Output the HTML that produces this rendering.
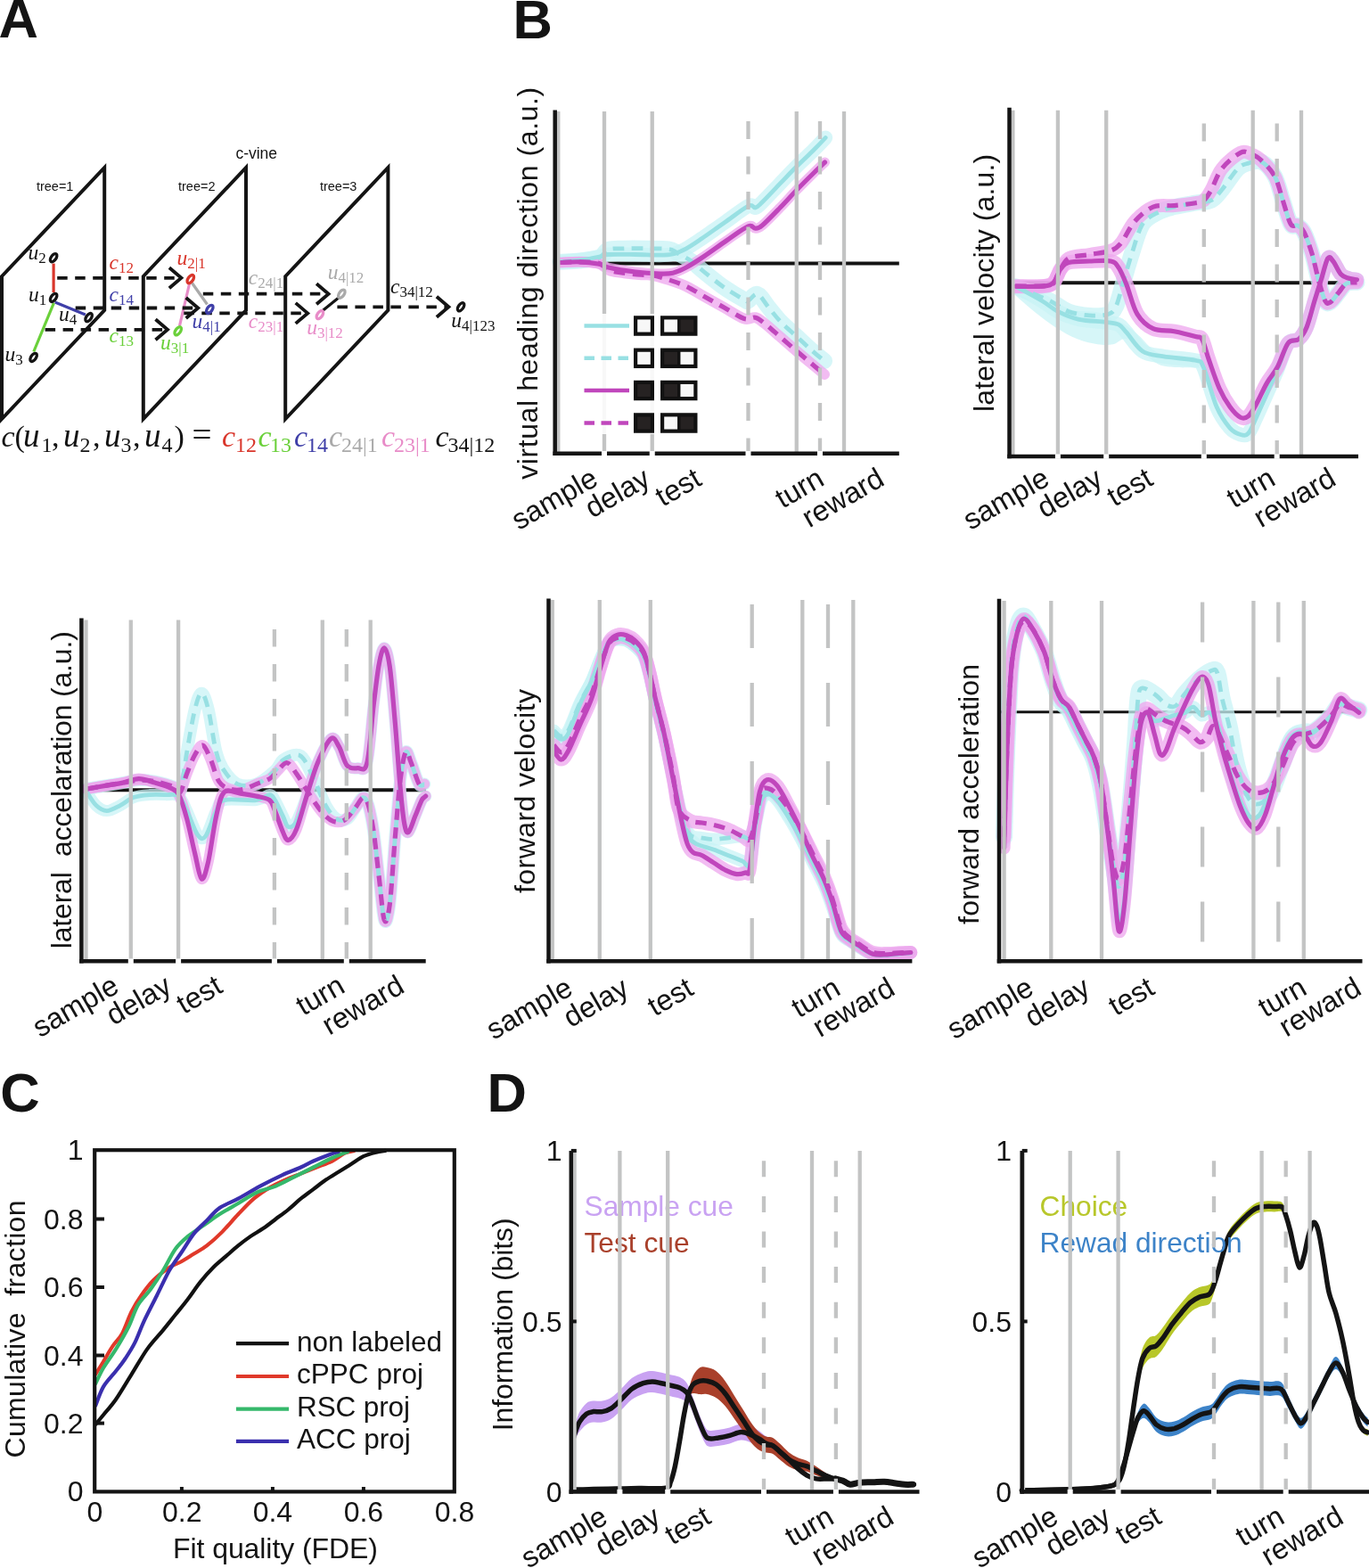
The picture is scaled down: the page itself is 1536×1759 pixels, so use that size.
<!DOCTYPE html><html><head><meta charset="utf-8"><title>Figure</title><style>html,body{margin:0;padding:0;background:#fff;}svg{display:block;}</style></head><body>
<svg width="1536" height="1759" viewBox="0 0 1536 1759">
<rect width="1536" height="1759" fill="#fff"/>
<text x="-1.5" y="42.3" font-size="61.5" text-anchor="start" fill="#141414" font-weight="bold" font-style="normal" font-family="'Liberation Sans', Arial, Helvetica, sans-serif">A</text>
<text x="575.5" y="42.5" font-size="61.5" text-anchor="start" fill="#141414" font-weight="bold" font-style="normal" font-family="'Liberation Sans', Arial, Helvetica, sans-serif">B</text>
<text x="0.2" y="1247.2" font-size="61.5" text-anchor="start" fill="#141414" font-weight="bold" font-style="normal" font-family="'Liberation Sans', Arial, Helvetica, sans-serif">C</text>
<text x="546.5" y="1247" font-size="61.5" text-anchor="start" fill="#141414" font-weight="bold" font-style="normal" font-family="'Liberation Sans', Arial, Helvetica, sans-serif">D</text>
<path d="M2,310 L117.2,188 L117.2,348 L2,470 Z" fill="none" stroke="#141414" stroke-width="4" stroke-linejoin="miter"/>
<path d="M160.8,310 L276,188 L276,348 L160.8,470 Z" fill="none" stroke="#141414" stroke-width="4" stroke-linejoin="miter"/>
<path d="M320.2,310 L435.4,188 L435.4,348 L320.2,470 Z" fill="none" stroke="#141414" stroke-width="4" stroke-linejoin="miter"/>
<line x1="60.1" y1="295.6" x2="60.1" y2="328" stroke="#d9362b" stroke-width="3.2" stroke-linecap="butt"/>
<line x1="61.7" y1="339" x2="95.8" y2="353.1" stroke="#3f3fa8" stroke-width="3.2" stroke-linecap="butt"/>
<line x1="60.4" y1="339.9" x2="37.8" y2="394.5" stroke="#6ad03a" stroke-width="3.2" stroke-linecap="butt"/>
<line x1="215.5" y1="317.5" x2="232.5" y2="341.5" stroke="#aaaaaa" stroke-width="3.2" stroke-linecap="butt"/>
<line x1="212.5" y1="318.5" x2="201.5" y2="365.5" stroke="#e88cc8" stroke-width="3.2" stroke-linecap="butt"/>
<line x1="362" y1="348.5" x2="380.5" y2="333.5" stroke="#141414" stroke-width="3.2" stroke-linecap="butt"/>
<line x1="64.2" y1="311.8" x2="201.4" y2="311.8" stroke="#141414" stroke-width="3.8" stroke-linecap="butt" stroke-dasharray="11.5 8.5"/>
<path d="M189.9,300.3 L203.4,311.8 L189.9,323.3" fill="none" stroke="#141414" stroke-width="3.8" stroke-linejoin="miter" stroke-linecap="butt"/>
<line x1="84.7" y1="345.5" x2="220.2" y2="345.5" stroke="#141414" stroke-width="3.8" stroke-linecap="butt" stroke-dasharray="11.5 8.5"/>
<path d="M208.7,334 L222.2,345.5 L208.7,357" fill="none" stroke="#141414" stroke-width="3.8" stroke-linejoin="miter" stroke-linecap="butt"/>
<line x1="50.6" y1="369.8" x2="186" y2="369.8" stroke="#141414" stroke-width="3.8" stroke-linecap="butt" stroke-dasharray="11.5 8.5"/>
<path d="M174.5,358.3 L188,369.8 L174.5,381.3" fill="none" stroke="#141414" stroke-width="3.8" stroke-linejoin="miter" stroke-linecap="butt"/>
<line x1="227.8" y1="329.7" x2="366.6" y2="329.7" stroke="#141414" stroke-width="3.8" stroke-linecap="butt" stroke-dasharray="11.5 8.5"/>
<path d="M355.1,318.2 L368.6,329.7 L355.1,341.2" fill="none" stroke="#141414" stroke-width="3.8" stroke-linejoin="miter" stroke-linecap="butt"/>
<line x1="206.3" y1="351.4" x2="343.2" y2="351.4" stroke="#141414" stroke-width="3.8" stroke-linecap="butt" stroke-dasharray="11.5 8.5"/>
<path d="M331.7,339.9 L345.2,351.4 L331.7,362.9" fill="none" stroke="#141414" stroke-width="3.8" stroke-linejoin="miter" stroke-linecap="butt"/>
<line x1="378.4" y1="344.3" x2="501.4" y2="344.3" stroke="#141414" stroke-width="3.8" stroke-linecap="butt" stroke-dasharray="11.5 8.5"/>
<path d="M489.9,332.8 L503.4,344.3 L489.9,355.8" fill="none" stroke="#141414" stroke-width="3.8" stroke-linejoin="miter" stroke-linecap="butt"/>
<ellipse cx="60.1" cy="289.2" rx="2.8" ry="5.2" transform="rotate(35 60.1 289.2)" fill="none" stroke="#141414" stroke-width="3.3"/>
<ellipse cx="60.1" cy="333.9" rx="2.8" ry="5.2" transform="rotate(35 60.1 333.9)" fill="none" stroke="#141414" stroke-width="3.3"/>
<ellipse cx="99.6" cy="356.1" rx="2.8" ry="5.2" transform="rotate(35 99.6 356.1)" fill="none" stroke="#141414" stroke-width="3.3"/>
<ellipse cx="37.6" cy="400.9" rx="2.8" ry="5.2" transform="rotate(35 37.6 400.9)" fill="none" stroke="#141414" stroke-width="3.3"/>
<ellipse cx="213.8" cy="313.1" rx="2.8" ry="5.2" transform="rotate(35 213.8 313.1)" fill="none" stroke="#d9362b" stroke-width="3.3"/>
<ellipse cx="235.3" cy="346.9" rx="2.8" ry="5.2" transform="rotate(35 235.3 346.9)" fill="none" stroke="#3f3fa8" stroke-width="3.3"/>
<ellipse cx="199.7" cy="371.3" rx="2.8" ry="5.2" transform="rotate(35 199.7 371.3)" fill="none" stroke="#6ad03a" stroke-width="3.3"/>
<ellipse cx="383.3" cy="329.7" rx="2.8" ry="5.2" transform="rotate(35 383.3 329.7)" fill="none" stroke="#aaaaaa" stroke-width="3.3"/>
<ellipse cx="358.9" cy="353.1" rx="2.8" ry="5.2" transform="rotate(35 358.9 353.1)" fill="none" stroke="#e88cc8" stroke-width="3.3"/>
<ellipse cx="517.1" cy="344.3" rx="2.8" ry="5.2" transform="rotate(35 517.1 344.3)" fill="none" stroke="#141414" stroke-width="3.3"/>
<text x="31.5" y="291" font-family="'Liberation Serif', 'Times New Roman', serif" font-size="23.5" fill="#141414"><tspan font-style="italic">u</tspan><tspan font-size="17" dy="4">2</tspan></text>
<text x="32" y="338.2" font-family="'Liberation Serif', 'Times New Roman', serif" font-size="23.5" fill="#141414"><tspan font-style="italic">u</tspan><tspan font-size="17" dy="4">1</tspan></text>
<text x="66" y="360.4" font-family="'Liberation Serif', 'Times New Roman', serif" font-size="23.5" fill="#141414"><tspan font-style="italic">u</tspan><tspan font-size="17" dy="4">4</tspan></text>
<text x="5.5" y="405" font-family="'Liberation Serif', 'Times New Roman', serif" font-size="23.5" fill="#141414"><tspan font-style="italic">u</tspan><tspan font-size="17" dy="4">3</tspan></text>
<text x="122.5" y="302" font-family="'Liberation Serif', 'Times New Roman', serif" font-size="23.5" fill="#d9362b"><tspan font-style="italic">c</tspan><tspan font-size="17" dy="4">12</tspan></text>
<text x="122.5" y="338" font-family="'Liberation Serif', 'Times New Roman', serif" font-size="23.5" fill="#3f3fa8"><tspan font-style="italic">c</tspan><tspan font-size="17" dy="4">14</tspan></text>
<text x="122.5" y="384" font-family="'Liberation Serif', 'Times New Roman', serif" font-size="23.5" fill="#6ad03a"><tspan font-style="italic">c</tspan><tspan font-size="17" dy="4">13</tspan></text>
<text x="198.5" y="297" font-family="'Liberation Serif', 'Times New Roman', serif" font-size="23.5" fill="#d9362b"><tspan font-style="italic">u</tspan><tspan font-size="17" dy="4">2|1</tspan></text>
<text x="215.5" y="367.5" font-family="'Liberation Serif', 'Times New Roman', serif" font-size="23.5" fill="#3f3fa8"><tspan font-style="italic">u</tspan><tspan font-size="17" dy="4">4|1</tspan></text>
<text x="180" y="392" font-family="'Liberation Serif', 'Times New Roman', serif" font-size="23.5" fill="#6ad03a"><tspan font-style="italic">u</tspan><tspan font-size="17" dy="4">3|1</tspan></text>
<text x="278.8" y="318.5" font-family="'Liberation Serif', 'Times New Roman', serif" font-size="23.5" fill="#aaaaaa"><tspan font-style="italic">c</tspan><tspan font-size="17" dy="4">24|1</tspan></text>
<text x="278.8" y="367.5" font-family="'Liberation Serif', 'Times New Roman', serif" font-size="23.5" fill="#e88cc8"><tspan font-style="italic">c</tspan><tspan font-size="17" dy="4">23|1</tspan></text>
<text x="367.7" y="312.5" font-family="'Liberation Serif', 'Times New Roman', serif" font-size="23.5" fill="#aaaaaa"><tspan font-style="italic">u</tspan><tspan font-size="17" dy="4">4|12</tspan></text>
<text x="344.2" y="375" font-family="'Liberation Serif', 'Times New Roman', serif" font-size="23.5" fill="#e88cc8"><tspan font-style="italic">u</tspan><tspan font-size="17" dy="4">3|12</tspan></text>
<text x="438" y="329" font-family="'Liberation Serif', 'Times New Roman', serif" font-size="23.5" fill="#141414"><tspan font-style="italic">c</tspan><tspan font-size="17" dy="4">34|12</tspan></text>
<text x="506.3" y="367" font-family="'Liberation Serif', 'Times New Roman', serif" font-size="23.5" fill="#141414"><tspan font-style="italic">u</tspan><tspan font-size="17" dy="4">4|123</tspan></text>
<text x="40.9" y="213.8" font-size="14.5" text-anchor="start" fill="#141414" font-weight="normal" font-style="normal" font-family="'Liberation Sans', Arial, Helvetica, sans-serif">tree=1</text>
<text x="200" y="213.8" font-size="14.5" text-anchor="start" fill="#141414" font-weight="normal" font-style="normal" font-family="'Liberation Sans', Arial, Helvetica, sans-serif">tree=2</text>
<text x="358.9" y="213.5" font-size="14.5" text-anchor="start" fill="#141414" font-weight="normal" font-style="normal" font-family="'Liberation Sans', Arial, Helvetica, sans-serif">tree=3</text>
<text x="264.4" y="177.5" font-size="17.5" text-anchor="start" fill="#141414" font-weight="normal" font-style="normal" font-family="'Liberation Sans', Arial, Helvetica, sans-serif">c-vine</text>
<text x="1.5" y="500.6" font-family="'Liberation Serif', 'Times New Roman', serif" font-size="34" fill="#141414" font-style="italic">c</text>
<text x="16.5" y="500.6" font-family="'Liberation Serif', 'Times New Roman', serif" font-size="34" fill="#141414" font-style="normal">(</text>
<text x="26" y="500.6" font-family="'Liberation Serif', 'Times New Roman', serif" font-size="37" fill="#141414" font-style="italic">u</text>
<text x="46.5" y="506.5" font-family="'Liberation Serif', 'Times New Roman', serif" font-size="24" fill="#141414" font-style="normal">1</text>
<text x="58" y="500.6" font-family="'Liberation Serif', 'Times New Roman', serif" font-size="34" fill="#141414" font-style="normal">,</text>
<text x="71" y="500.6" font-family="'Liberation Serif', 'Times New Roman', serif" font-size="37" fill="#141414" font-style="italic">u</text>
<text x="89.5" y="506.5" font-family="'Liberation Serif', 'Times New Roman', serif" font-size="24" fill="#141414" font-style="normal">2</text>
<text x="104" y="500.6" font-family="'Liberation Serif', 'Times New Roman', serif" font-size="34" fill="#141414" font-style="normal">,</text>
<text x="117" y="500.6" font-family="'Liberation Serif', 'Times New Roman', serif" font-size="37" fill="#141414" font-style="italic">u</text>
<text x="135.5" y="506.5" font-family="'Liberation Serif', 'Times New Roman', serif" font-size="24" fill="#141414" font-style="normal">3</text>
<text x="149" y="500.6" font-family="'Liberation Serif', 'Times New Roman', serif" font-size="34" fill="#141414" font-style="normal">,</text>
<text x="162" y="500.6" font-family="'Liberation Serif', 'Times New Roman', serif" font-size="37" fill="#141414" font-style="italic">u</text>
<text x="181.5" y="506.5" font-family="'Liberation Serif', 'Times New Roman', serif" font-size="24" fill="#141414" font-style="normal">4</text>
<text x="195.5" y="500.6" font-family="'Liberation Serif', 'Times New Roman', serif" font-size="34" fill="#141414" font-style="normal">)</text>
<text x="215.5" y="500.6" font-family="'Liberation Serif', 'Times New Roman', serif" font-size="39" fill="#141414" font-style="normal">=</text>
<text x="249" y="500.6" font-family="'Liberation Serif', 'Times New Roman', serif" font-size="34" fill="#d9362b" font-style="italic">c</text>
<text x="264" y="506.5" font-family="'Liberation Serif', 'Times New Roman', serif" font-size="24" fill="#d9362b" font-style="normal">12</text>
<text x="289.5" y="500.6" font-family="'Liberation Serif', 'Times New Roman', serif" font-size="34" fill="#6ad03a" font-style="italic">c</text>
<text x="303" y="506.5" font-family="'Liberation Serif', 'Times New Roman', serif" font-size="24" fill="#6ad03a" font-style="normal">13</text>
<text x="330" y="500.6" font-family="'Liberation Serif', 'Times New Roman', serif" font-size="34" fill="#3f3fa8" font-style="italic">c</text>
<text x="344" y="506.5" font-family="'Liberation Serif', 'Times New Roman', serif" font-size="24" fill="#3f3fa8" font-style="normal">14</text>
<text x="369" y="500.6" font-family="'Liberation Serif', 'Times New Roman', serif" font-size="34" fill="#aaaaaa" font-style="italic">c</text>
<text x="383" y="506.5" font-family="'Liberation Serif', 'Times New Roman', serif" font-size="24" fill="#aaaaaa" font-style="normal">24|1</text>
<text x="428" y="500.6" font-family="'Liberation Serif', 'Times New Roman', serif" font-size="34" fill="#e88cc8" font-style="italic">c</text>
<text x="442" y="506.5" font-family="'Liberation Serif', 'Times New Roman', serif" font-size="24" fill="#e88cc8" font-style="normal">23|1</text>
<text x="488.5" y="500.6" font-family="'Liberation Serif', 'Times New Roman', serif" font-size="34" fill="#141414" font-style="italic">c</text>
<text x="502.5" y="506.5" font-family="'Liberation Serif', 'Times New Roman', serif" font-size="24" fill="#141414" font-style="normal">34|12</text>
<line x1="622.7" y1="295.5" x2="1008.8" y2="295.5" stroke="#141414" stroke-width="4" stroke-linecap="butt"/>
<path d="M628.8,293.8 C632.3,293.5 642.7,293.0 650.0,292.0 C657.3,291.0 667.1,289.1 672.5,288.0 C677.9,286.9 675.8,285.9 682.5,285.5 C689.2,285.1 702.9,285.4 712.5,285.5 C722.1,285.6 732.9,286.3 740.0,286.2 C747.1,286.2 750.0,286.2 755.0,285.0 C760.0,283.8 764.6,281.7 770.0,278.8 C775.4,275.8 780.4,272.3 787.5,267.5 C794.6,262.7 803.8,256.0 812.5,250.0 C821.2,244.0 833.7,234.1 839.5,231.2 C845.3,228.4 844.9,233.7 847.5,233.0 C850.1,232.3 850.4,231.5 855.0,227.0 C859.6,222.5 868.5,213.0 875.0,206.2 C881.5,199.5 887.5,193.0 893.8,186.8 C900.0,180.5 907.1,174.1 912.5,168.8 C917.9,163.4 924.0,156.9 926.2,154.5" stroke="#c8f3f5" stroke-width="16" fill="none" stroke-linecap="round" stroke-linejoin="round" opacity="0.75"/>
<path d="M628.8,293.8 C632.3,293.5 642.7,293.3 650.0,292.5 C657.3,291.7 667.1,290.8 672.5,288.8 C677.9,286.7 677.9,281.7 682.5,280.0 C687.1,278.3 692.9,279.0 700.0,278.8 C707.1,278.5 716.7,278.6 725.0,278.8 C733.3,278.9 744.2,278.7 750.0,279.5 C755.8,280.3 755.8,281.6 760.0,283.8 C764.2,285.9 770.0,289.0 775.0,292.5 C780.0,296.0 783.8,300.0 790.0,305.0 C796.2,310.0 805.0,317.3 812.5,322.5 C820.0,327.7 830.5,333.8 835.0,336.2 C839.5,338.8 837.0,338.5 839.5,337.5 C842.0,336.5 846.2,328.8 850.0,330.0 C853.8,331.2 858.3,340.0 862.5,345.0 C866.7,350.0 869.8,354.6 875.0,360.0 C880.2,365.4 887.9,372.1 893.8,377.5 C899.6,382.9 904.8,387.9 910.0,392.5 C915.2,397.1 922.5,402.9 925.0,405.0" stroke="#c8f3f5" stroke-width="18" fill="none" stroke-linecap="round" stroke-linejoin="round" opacity="0.75"/>
<path d="M628.8,294.5 C632.3,294.4 642.7,293.5 650.0,293.8 C657.3,294.0 667.1,295.2 672.5,296.2 C677.9,297.3 675.8,298.5 682.5,300.0 C689.2,301.5 702.9,303.8 712.5,305.0 C722.1,306.2 732.9,306.8 740.0,307.0 C747.1,307.2 750.0,307.4 755.0,306.2 C760.0,305.1 764.2,303.1 770.0,300.0 C775.8,296.9 782.5,292.5 790.0,287.5 C797.5,282.5 806.8,275.6 815.0,270.0 C823.2,264.4 834.1,256.0 839.5,253.8 C844.9,251.5 844.9,256.4 847.5,256.2 C850.1,256.1 850.4,256.8 855.0,253.0 C859.6,249.2 868.5,239.9 875.0,233.2 C881.5,226.6 887.5,219.7 893.8,213.2 C900.0,206.8 907.2,199.7 912.5,194.5 C917.8,189.3 923.3,184.1 925.5,182.0" stroke="#eea6ee" stroke-width="11" fill="none" stroke-linecap="round" stroke-linejoin="round" opacity="0.75"/>
<path d="M628.8,294.5 C632.3,294.4 643.1,293.7 650.0,293.8 C656.9,293.8 665.4,294.2 670.0,295.0 C674.6,295.8 675.0,297.3 677.5,298.8 C680.0,300.2 681.2,302.5 685.0,303.8 C688.8,305.0 694.2,305.5 700.0,306.2 C705.8,307.0 714.7,307.8 720.0,308.2 C725.3,308.7 726.8,307.8 731.8,308.8 C736.8,309.7 743.6,311.7 750.0,313.8 C756.4,315.8 763.3,318.1 770.0,321.2 C776.7,324.4 782.9,328.5 790.0,332.5 C797.1,336.5 805.0,340.8 812.5,345.0 C820.0,349.2 829.2,355.6 835.0,357.5 C840.8,359.4 843.8,355.4 847.5,356.2 C851.2,357.1 852.9,359.0 857.5,362.5 C862.1,366.0 869.0,372.3 875.0,377.5 C881.0,382.7 887.9,388.8 893.8,393.8 C899.6,398.8 904.8,403.1 910.0,407.5 C915.2,411.9 922.5,417.9 925.0,420.0" stroke="#eea6ee" stroke-width="12" fill="none" stroke-linecap="round" stroke-linejoin="round" opacity="0.75"/>
<path d="M628.8,293.8 C632.3,293.5 642.7,293.0 650.0,292.0 C657.3,291.0 667.1,289.1 672.5,288.0 C677.9,286.9 675.8,285.9 682.5,285.5 C689.2,285.1 702.9,285.4 712.5,285.5 C722.1,285.6 732.9,286.3 740.0,286.2 C747.1,286.2 750.0,286.2 755.0,285.0 C760.0,283.8 764.6,281.7 770.0,278.8 C775.4,275.8 780.4,272.3 787.5,267.5 C794.6,262.7 803.8,256.0 812.5,250.0 C821.2,244.0 833.7,234.1 839.5,231.2 C845.3,228.4 844.9,233.7 847.5,233.0 C850.1,232.3 850.4,231.5 855.0,227.0 C859.6,222.5 868.5,213.0 875.0,206.2 C881.5,199.5 887.5,193.0 893.8,186.8 C900.0,180.5 907.1,174.1 912.5,168.8 C917.9,163.4 924.0,156.9 926.2,154.5" stroke="#98e0e3" stroke-width="4.8" fill="none" stroke-linecap="round" stroke-linejoin="round"/>
<path d="M628.8,293.8 C632.3,293.5 642.7,293.3 650.0,292.5 C657.3,291.7 667.1,290.8 672.5,288.8 C677.9,286.7 677.9,281.7 682.5,280.0 C687.1,278.3 692.9,279.0 700.0,278.8 C707.1,278.5 716.7,278.6 725.0,278.8 C733.3,278.9 744.2,278.7 750.0,279.5 C755.8,280.3 755.8,281.6 760.0,283.8 C764.2,285.9 770.0,289.0 775.0,292.5 C780.0,296.0 783.8,300.0 790.0,305.0 C796.2,310.0 805.0,317.3 812.5,322.5 C820.0,327.7 830.5,333.8 835.0,336.2 C839.5,338.8 837.0,338.5 839.5,337.5 C842.0,336.5 846.2,328.8 850.0,330.0 C853.8,331.2 858.3,340.0 862.5,345.0 C866.7,350.0 869.8,354.6 875.0,360.0 C880.2,365.4 887.9,372.1 893.8,377.5 C899.6,382.9 904.8,387.9 910.0,392.5 C915.2,397.1 922.5,402.9 925.0,405.0" stroke="#98e0e3" stroke-width="4.8" fill="none" stroke-linecap="butt" stroke-linejoin="round" stroke-dasharray="12.5 8.5"/>
<path d="M628.8,294.5 C632.3,294.4 642.7,293.5 650.0,293.8 C657.3,294.0 667.1,295.2 672.5,296.2 C677.9,297.3 675.8,298.5 682.5,300.0 C689.2,301.5 702.9,303.8 712.5,305.0 C722.1,306.2 732.9,306.8 740.0,307.0 C747.1,307.2 750.0,307.4 755.0,306.2 C760.0,305.1 764.2,303.1 770.0,300.0 C775.8,296.9 782.5,292.5 790.0,287.5 C797.5,282.5 806.8,275.6 815.0,270.0 C823.2,264.4 834.1,256.0 839.5,253.8 C844.9,251.5 844.9,256.4 847.5,256.2 C850.1,256.1 850.4,256.8 855.0,253.0 C859.6,249.2 868.5,239.9 875.0,233.2 C881.5,226.6 887.5,219.7 893.8,213.2 C900.0,206.8 907.2,199.7 912.5,194.5 C917.8,189.3 923.3,184.1 925.5,182.0" stroke="#c046bc" stroke-width="5.2" fill="none" stroke-linecap="round" stroke-linejoin="round"/>
<path d="M628.8,294.5 C632.3,294.4 643.1,293.7 650.0,293.8 C656.9,293.8 665.4,294.2 670.0,295.0 C674.6,295.8 675.0,297.3 677.5,298.8 C680.0,300.2 681.2,302.5 685.0,303.8 C688.8,305.0 694.2,305.5 700.0,306.2 C705.8,307.0 714.7,307.8 720.0,308.2 C725.3,308.7 726.8,307.8 731.8,308.8 C736.8,309.7 743.6,311.7 750.0,313.8 C756.4,315.8 763.3,318.1 770.0,321.2 C776.7,324.4 782.9,328.5 790.0,332.5 C797.1,336.5 805.0,340.8 812.5,345.0 C820.0,349.2 829.2,355.6 835.0,357.5 C840.8,359.4 843.8,355.4 847.5,356.2 C851.2,357.1 852.9,359.0 857.5,362.5 C862.1,366.0 869.0,372.3 875.0,377.5 C881.0,382.7 887.9,388.8 893.8,393.8 C899.6,398.8 904.8,403.1 910.0,407.5 C915.2,411.9 922.5,417.9 925.0,420.0" stroke="#c046bc" stroke-width="5.2" fill="none" stroke-linecap="butt" stroke-linejoin="round" stroke-dasharray="12.5 8.5"/>
<line x1="626.3" y1="125" x2="626.3" y2="508.75" stroke="#c3c4c4" stroke-width="4.3" stroke-linecap="butt"/>
<line x1="678" y1="125" x2="678" y2="508.75" stroke="#c3c4c4" stroke-width="4.3" stroke-linecap="butt"/>
<line x1="731.75" y1="125" x2="731.75" y2="508.75" stroke="#c3c4c4" stroke-width="4.3" stroke-linecap="butt"/>
<line x1="839.5" y1="136" x2="839.5" y2="508.75" stroke="#c3c4c4" stroke-width="4.3" stroke-linecap="butt" stroke-dasharray="20 19.5"/>
<line x1="893.75" y1="125" x2="893.75" y2="508.75" stroke="#c3c4c4" stroke-width="4.3" stroke-linecap="butt"/>
<line x1="920" y1="136" x2="920" y2="508.75" stroke="#c3c4c4" stroke-width="4.3" stroke-linecap="butt" stroke-dasharray="20 19.5"/>
<line x1="947" y1="125" x2="947" y2="508.75" stroke="#c3c4c4" stroke-width="4.3" stroke-linecap="butt"/>
<rect x="650" y="352" width="136" height="135" fill="#fff" opacity="0.88"/>
<line x1="655.5" y1="365.5" x2="706" y2="365.5" stroke="#98e0e3" stroke-width="4.5" stroke-linecap="butt"/>
<rect x="711" y="354.25" width="23" height="22.5" fill="#111"/>
<rect x="715.2" y="358.45" width="14.6" height="14.1" fill="#f7f7f7"/>
<rect x="741" y="354.25" width="41.5" height="22.5" fill="#111"/>
<rect x="745.2" y="358.45" width="14.85" height="14.1" fill="#f7f7f7"/>
<rect x="763.45" y="358.45" width="14.85" height="14.1" fill="#262222"/>
<line x1="655.5" y1="401.8" x2="706" y2="401.8" stroke="#98e0e3" stroke-width="4.5" stroke-linecap="butt" stroke-dasharray="11.5 7.5"/>
<rect x="711" y="390.55" width="23" height="22.5" fill="#111"/>
<rect x="715.2" y="394.75" width="14.6" height="14.1" fill="#f7f7f7"/>
<rect x="741" y="390.55" width="41.5" height="22.5" fill="#111"/>
<rect x="745.2" y="394.75" width="14.85" height="14.1" fill="#262222"/>
<rect x="763.45" y="394.75" width="14.85" height="14.1" fill="#f7f7f7"/>
<line x1="655.5" y1="438" x2="706" y2="438" stroke="#c046bc" stroke-width="4.5" stroke-linecap="butt"/>
<rect x="711" y="426.75" width="23" height="22.5" fill="#111"/>
<rect x="715.2" y="430.95" width="14.6" height="14.1" fill="#262222"/>
<rect x="741" y="426.75" width="41.5" height="22.5" fill="#111"/>
<rect x="745.2" y="430.95" width="14.85" height="14.1" fill="#262222"/>
<rect x="763.45" y="430.95" width="14.85" height="14.1" fill="#f7f7f7"/>
<line x1="655.5" y1="474.5" x2="706" y2="474.5" stroke="#c046bc" stroke-width="4.5" stroke-linecap="butt" stroke-dasharray="11.5 7.5"/>
<rect x="711" y="463.25" width="23" height="22.5" fill="#111"/>
<rect x="715.2" y="467.45" width="14.6" height="14.1" fill="#262222"/>
<rect x="741" y="463.25" width="41.5" height="22.5" fill="#111"/>
<rect x="745.2" y="467.45" width="14.85" height="14.1" fill="#f7f7f7"/>
<rect x="763.45" y="467.45" width="14.85" height="14.1" fill="#262222"/>
<line x1="622.7" y1="123.5" x2="622.7" y2="511" stroke="#141414" stroke-width="4.5" stroke-linecap="butt"/>
<line x1="620.45" y1="508.75" x2="1008.8" y2="508.75" stroke="#141414" stroke-width="4.5" stroke-linecap="butt"/>
<rect x="675" y="506" width="6" height="5.5" fill="#fff"/>
<rect x="728.75" y="506" width="6" height="5.5" fill="#fff"/>
<rect x="836.5" y="506" width="6" height="5.5" fill="#fff"/>
<rect x="917" y="506" width="6" height="5.5" fill="#fff"/>
<text x="672.8" y="542.9" font-size="32.5" text-anchor="end" fill="#141414" font-weight="normal" font-style="normal" font-family="'Liberation Sans', Arial, Helvetica, sans-serif" transform="rotate(-30 672.8 542.9)">sample</text>
<text x="731.7" y="542.9" font-size="32.5" text-anchor="end" fill="#141414" font-weight="normal" font-style="normal" font-family="'Liberation Sans', Arial, Helvetica, sans-serif" transform="rotate(-30 731.7 542.9)">delay</text>
<text x="789" y="542.9" font-size="32.5" text-anchor="end" fill="#141414" font-weight="normal" font-style="normal" font-family="'Liberation Sans', Arial, Helvetica, sans-serif" transform="rotate(-30 789 542.9)">test</text>
<text x="926.6" y="542.9" font-size="32.5" text-anchor="end" fill="#141414" font-weight="normal" font-style="normal" font-family="'Liberation Sans', Arial, Helvetica, sans-serif" transform="rotate(-30 926.6 542.9)">turn</text>
<text x="994.1" y="542.9" font-size="32.5" text-anchor="end" fill="#141414" font-weight="normal" font-style="normal" font-family="'Liberation Sans', Arial, Helvetica, sans-serif" transform="rotate(-30 994.1 542.9)">reward</text>
<text x="603.2" y="317.8" font-size="32" text-anchor="middle" fill="#141414" font-weight="normal" font-style="normal" font-family="'Liberation Sans', Arial, Helvetica, sans-serif" transform="rotate(-90 603.2 317.8)" textLength="440" lengthAdjust="spacing">virtual heading direction (a.u.)</text>
<line x1="1132.5" y1="317.3" x2="1524" y2="317.3" stroke="#141414" stroke-width="4" stroke-linecap="butt"/>
<path d="M1139.4,326.9 C1143.1,329.0 1153.8,336.3 1161.3,339.4 C1168.8,342.5 1176.9,344.0 1184.7,345.6 C1192.5,347.2 1200.3,348.0 1208.1,348.8 C1215.9,349.6 1224.8,348.8 1231.6,350.3 C1238.4,351.9 1243.6,355.8 1248.8,358.1 C1254.0,360.5 1257.9,361.3 1262.8,364.4 C1267.7,367.5 1273.2,372.2 1278.4,376.9 C1283.6,381.6 1288.8,388.9 1294.0,392.5 C1299.2,396.1 1301.1,397.5 1309.7,398.8 C1318.3,400.1 1339.6,400.1 1345.6,400.3 L1345.6,412.8 C1339.6,412.6 1318.3,412.6 1309.7,411.3 C1301.1,410.0 1299.2,408.6 1294.0,405.0 C1288.8,401.4 1283.6,393.6 1278.4,389.4 C1273.2,385.2 1267.7,380.5 1262.8,380.0 C1257.9,379.5 1254.0,385.2 1248.8,386.3 C1243.6,387.4 1238.4,387.4 1231.6,386.3 C1224.8,385.2 1215.9,383.1 1208.1,380.0 C1200.3,376.9 1192.5,372.4 1184.7,367.5 C1176.9,362.6 1168.8,356.3 1161.3,350.3 C1153.8,344.3 1143.1,334.7 1139.4,331.6 Z" stroke="none" stroke-width="1" fill="#c8f3f5" stroke-linecap="round" stroke-linejoin="round" opacity="0.75"/>
<path d="M1139.4,321.2 C1144.3,323.9 1161.2,332.8 1169.1,337.5 C1177.0,342.2 1180.0,345.9 1186.9,349.4 C1193.8,352.9 1201.7,356.3 1210.6,358.3 C1219.5,360.3 1232.9,360.3 1240.3,361.3 C1247.8,362.3 1251.2,362.3 1255.2,364.2 C1259.1,366.2 1259.6,368.2 1264.1,373.2 C1268.5,378.1 1275.0,389.5 1281.9,393.9 C1288.8,398.4 1295.8,398.1 1305.7,399.9 C1315.5,401.6 1333.9,402.3 1341.3,404.3 C1348.7,406.3 1346.2,403.1 1350.2,411.8 C1354.2,420.4 1360.1,444.9 1365.0,456.3 C1370.0,467.7 1375.4,474.9 1379.9,480.1 C1384.3,485.2 1388.3,486.5 1391.8,487.5 C1395.2,488.5 1397.7,489.2 1400.7,486.0 C1403.6,482.8 1406.1,475.6 1409.6,468.2 C1413.0,460.7 1417.5,450.4 1421.5,441.4 C1425.4,432.5 1429.4,424.1 1433.3,414.7 C1437.3,405.3 1441.2,390.7 1445.2,385.0 C1449.2,379.3 1453.6,383.5 1457.1,380.6 C1460.5,377.6 1463.0,374.4 1466.0,367.2 C1469.0,360.0 1472.2,346.4 1474.9,337.5 C1477.6,328.6 1479.8,321.7 1482.3,313.8 C1484.8,305.9 1487.5,293.5 1489.7,290.0 C1492.0,286.6 1493.2,290.0 1495.7,293.0 C1498.2,296.0 1501.6,304.6 1504.6,307.8 C1507.5,311.1 1510.5,311.3 1513.5,312.3 C1516.5,313.3 1520.9,313.5 1522.4,313.8" stroke="#c8f3f5" stroke-width="16" fill="none" stroke-linecap="round" stroke-linejoin="round" opacity="0.75"/>
<path d="M1139.4,321.2 C1145.8,323.9 1168.1,332.8 1178.0,337.5 C1187.9,342.2 1191.3,346.7 1198.8,349.4 C1206.2,352.1 1215.1,353.4 1222.5,353.9 C1229.9,354.4 1238.4,354.1 1243.3,352.4 C1248.2,350.6 1249.2,349.9 1252.2,343.5 C1255.2,337.0 1258.2,323.7 1261.1,313.8 C1264.1,303.9 1266.6,294.5 1270.0,284.1 C1273.5,273.7 1277.0,259.1 1281.9,251.4 C1286.8,243.8 1293.8,241.3 1299.7,238.1 C1305.6,234.8 1310.6,233.9 1317.5,232.1 C1324.5,230.4 1334.4,228.9 1341.3,227.7 C1348.2,226.4 1354.2,227.2 1359.1,224.7 C1364.0,222.2 1366.0,218.8 1371.0,212.8 C1375.9,206.9 1383.8,194.0 1388.8,189.1 C1393.7,184.1 1396.2,184.4 1400.7,183.1 C1405.1,181.9 1410.6,179.2 1415.5,181.7 C1420.5,184.1 1426.4,190.8 1430.4,198.0 C1434.3,205.2 1436.3,215.8 1439.3,224.7 C1442.2,233.6 1445.4,246.7 1448.2,251.4 C1450.9,256.1 1453.1,251.4 1455.6,252.9 C1458.1,254.4 1460.3,255.1 1463.0,260.3 C1465.7,265.5 1469.2,275.2 1471.9,284.1 C1474.6,293.0 1476.9,304.9 1479.3,313.8 C1481.8,322.7 1484.5,333.3 1486.8,337.5 C1489.0,341.7 1490.2,340.5 1492.7,339.0 C1495.2,337.5 1498.7,332.1 1501.6,328.6 C1504.6,325.2 1507.1,320.2 1510.5,318.2 C1514.0,316.3 1520.4,317.0 1522.4,316.8" stroke="#c8f3f5" stroke-width="18" fill="none" stroke-linecap="round" stroke-linejoin="round" opacity="0.75"/>
<path d="M1139.4,321.2 C1145.8,321.0 1169.6,322.9 1178.0,319.7 C1186.4,316.5 1186.4,306.1 1189.9,301.9 C1193.3,297.7 1193.3,296.0 1198.8,294.5 C1204.2,293.0 1214.6,293.2 1222.5,293.0 C1230.4,292.7 1240.8,291.8 1246.3,293.0 C1251.7,294.2 1252.2,296.0 1255.2,300.4 C1258.2,304.9 1260.6,311.0 1264.1,319.7 C1267.6,328.4 1271.0,344.2 1276.0,352.4 C1280.9,360.5 1286.9,365.5 1293.8,368.7 C1300.7,371.9 1309.6,370.2 1317.5,371.7 C1325.4,373.2 1336.1,376.1 1341.3,377.6 C1346.5,379.1 1346.2,376.4 1348.7,380.6 C1351.2,384.8 1352.9,393.7 1356.1,402.9 C1359.3,412.0 1364.0,426.6 1368.0,435.5 C1372.0,444.4 1375.9,450.8 1379.9,456.3 C1383.8,461.7 1388.3,466.4 1391.8,468.2 C1395.2,469.9 1397.7,469.2 1400.7,466.7 C1403.6,464.2 1406.1,459.5 1409.6,453.3 C1413.0,447.1 1417.5,436.5 1421.5,429.6 C1425.4,422.6 1429.4,419.2 1433.3,411.8 C1437.3,404.3 1441.2,390.2 1445.2,385.0 C1449.2,379.8 1453.6,383.5 1457.1,380.6 C1460.5,377.6 1463.0,374.4 1466.0,367.2 C1469.0,360.0 1472.2,346.4 1474.9,337.5 C1477.6,328.6 1479.8,321.7 1482.3,313.8 C1484.8,305.9 1487.5,293.5 1489.7,290.0 C1492.0,286.6 1493.2,290.0 1495.7,293.0 C1498.2,296.0 1501.6,304.6 1504.6,307.8 C1507.5,311.1 1510.5,311.3 1513.5,312.3 C1516.5,313.3 1520.9,313.5 1522.4,313.8" stroke="#eea6ee" stroke-width="16" fill="none" stroke-linecap="round" stroke-linejoin="round" opacity="0.75"/>
<path d="M1139.4,321.2 C1145.8,321.0 1170.1,321.9 1178.0,319.7 C1185.9,317.5 1183.4,312.8 1186.9,307.8 C1190.4,302.9 1192.8,293.7 1198.8,290.0 C1204.7,286.3 1214.6,287.1 1222.5,285.6 C1230.4,284.1 1240.3,283.3 1246.3,281.1 C1252.2,278.9 1253.7,277.7 1258.2,272.2 C1262.6,266.8 1267.1,255.1 1273.0,248.5 C1278.9,241.8 1286.4,235.1 1293.8,232.1 C1301.2,229.2 1309.6,231.4 1317.5,230.6 C1325.4,229.9 1335.7,228.7 1341.3,227.7 C1346.8,226.7 1347.8,227.2 1350.8,224.7 C1353.8,222.2 1355.7,218.8 1359.1,212.8 C1362.5,206.9 1365.5,196.0 1371.0,189.1 C1376.4,182.1 1386.3,174.0 1391.8,171.3 C1397.2,168.5 1399.7,171.3 1403.6,172.7 C1407.6,174.2 1411.1,176.0 1415.5,180.2 C1420.0,184.4 1426.4,190.6 1430.4,198.0 C1434.3,205.4 1436.3,215.8 1439.3,224.7 C1442.2,233.6 1445.4,246.7 1448.2,251.4 C1450.9,256.1 1453.1,251.4 1455.6,252.9 C1458.1,254.4 1460.3,255.1 1463.0,260.3 C1465.7,265.5 1469.2,275.2 1471.9,284.1 C1474.6,293.0 1476.9,304.9 1479.3,313.8 C1481.8,322.7 1484.5,333.3 1486.8,337.5 C1489.0,341.7 1490.2,340.5 1492.7,339.0 C1495.2,337.5 1498.7,332.1 1501.6,328.6 C1504.6,325.2 1507.1,320.2 1510.5,318.2 C1514.0,316.3 1520.4,317.0 1522.4,316.8" stroke="#eea6ee" stroke-width="15" fill="none" stroke-linecap="round" stroke-linejoin="round" opacity="0.75"/>
<path d="M1139.4,321.2 C1144.3,323.9 1161.2,332.8 1169.1,337.5 C1177.0,342.2 1180.0,345.9 1186.9,349.4 C1193.8,352.9 1201.7,356.3 1210.6,358.3 C1219.5,360.3 1232.9,360.3 1240.3,361.3 C1247.8,362.3 1251.2,362.3 1255.2,364.2 C1259.1,366.2 1259.6,368.2 1264.1,373.2 C1268.5,378.1 1275.0,389.5 1281.9,393.9 C1288.8,398.4 1295.8,398.1 1305.7,399.9 C1315.5,401.6 1333.9,402.3 1341.3,404.3 C1348.7,406.3 1346.2,403.1 1350.2,411.8 C1354.2,420.4 1360.1,444.9 1365.0,456.3 C1370.0,467.7 1375.4,474.9 1379.9,480.1 C1384.3,485.2 1388.3,486.5 1391.8,487.5 C1395.2,488.5 1397.7,489.2 1400.7,486.0 C1403.6,482.8 1406.1,475.6 1409.6,468.2 C1413.0,460.7 1417.5,450.4 1421.5,441.4 C1425.4,432.5 1429.4,424.1 1433.3,414.7 C1437.3,405.3 1441.2,390.7 1445.2,385.0 C1449.2,379.3 1453.6,383.5 1457.1,380.6 C1460.5,377.6 1463.0,374.4 1466.0,367.2 C1469.0,360.0 1472.2,346.4 1474.9,337.5 C1477.6,328.6 1479.8,321.7 1482.3,313.8 C1484.8,305.9 1487.5,293.5 1489.7,290.0 C1492.0,286.6 1493.2,290.0 1495.7,293.0 C1498.2,296.0 1501.6,304.6 1504.6,307.8 C1507.5,311.1 1510.5,311.3 1513.5,312.3 C1516.5,313.3 1520.9,313.5 1522.4,313.8" stroke="#98e0e3" stroke-width="4.8" fill="none" stroke-linecap="round" stroke-linejoin="round"/>
<path d="M1139.4,321.2 C1145.8,323.9 1168.1,332.8 1178.0,337.5 C1187.9,342.2 1191.3,346.7 1198.8,349.4 C1206.2,352.1 1215.1,353.4 1222.5,353.9 C1229.9,354.4 1238.4,354.1 1243.3,352.4 C1248.2,350.6 1249.2,349.9 1252.2,343.5 C1255.2,337.0 1258.2,323.7 1261.1,313.8 C1264.1,303.9 1266.6,294.5 1270.0,284.1 C1273.5,273.7 1277.0,259.1 1281.9,251.4 C1286.8,243.8 1293.8,241.3 1299.7,238.1 C1305.6,234.8 1310.6,233.9 1317.5,232.1 C1324.5,230.4 1334.4,228.9 1341.3,227.7 C1348.2,226.4 1354.2,227.2 1359.1,224.7 C1364.0,222.2 1366.0,218.8 1371.0,212.8 C1375.9,206.9 1383.8,194.0 1388.8,189.1 C1393.7,184.1 1396.2,184.4 1400.7,183.1 C1405.1,181.9 1410.6,179.2 1415.5,181.7 C1420.5,184.1 1426.4,190.8 1430.4,198.0 C1434.3,205.2 1436.3,215.8 1439.3,224.7 C1442.2,233.6 1445.4,246.7 1448.2,251.4 C1450.9,256.1 1453.1,251.4 1455.6,252.9 C1458.1,254.4 1460.3,255.1 1463.0,260.3 C1465.7,265.5 1469.2,275.2 1471.9,284.1 C1474.6,293.0 1476.9,304.9 1479.3,313.8 C1481.8,322.7 1484.5,333.3 1486.8,337.5 C1489.0,341.7 1490.2,340.5 1492.7,339.0 C1495.2,337.5 1498.7,332.1 1501.6,328.6 C1504.6,325.2 1507.1,320.2 1510.5,318.2 C1514.0,316.3 1520.4,317.0 1522.4,316.8" stroke="#98e0e3" stroke-width="4.8" fill="none" stroke-linecap="butt" stroke-linejoin="round" stroke-dasharray="12.5 8.5"/>
<path d="M1139.4,321.2 C1145.8,321.0 1169.6,322.9 1178.0,319.7 C1186.4,316.5 1186.4,306.1 1189.9,301.9 C1193.3,297.7 1193.3,296.0 1198.8,294.5 C1204.2,293.0 1214.6,293.2 1222.5,293.0 C1230.4,292.7 1240.8,291.8 1246.3,293.0 C1251.7,294.2 1252.2,296.0 1255.2,300.4 C1258.2,304.9 1260.6,311.0 1264.1,319.7 C1267.6,328.4 1271.0,344.2 1276.0,352.4 C1280.9,360.5 1286.9,365.5 1293.8,368.7 C1300.7,371.9 1309.6,370.2 1317.5,371.7 C1325.4,373.2 1336.1,376.1 1341.3,377.6 C1346.5,379.1 1346.2,376.4 1348.7,380.6 C1351.2,384.8 1352.9,393.7 1356.1,402.9 C1359.3,412.0 1364.0,426.6 1368.0,435.5 C1372.0,444.4 1375.9,450.8 1379.9,456.3 C1383.8,461.7 1388.3,466.4 1391.8,468.2 C1395.2,469.9 1397.7,469.2 1400.7,466.7 C1403.6,464.2 1406.1,459.5 1409.6,453.3 C1413.0,447.1 1417.5,436.5 1421.5,429.6 C1425.4,422.6 1429.4,419.2 1433.3,411.8 C1437.3,404.3 1441.2,390.2 1445.2,385.0 C1449.2,379.8 1453.6,383.5 1457.1,380.6 C1460.5,377.6 1463.0,374.4 1466.0,367.2 C1469.0,360.0 1472.2,346.4 1474.9,337.5 C1477.6,328.6 1479.8,321.7 1482.3,313.8 C1484.8,305.9 1487.5,293.5 1489.7,290.0 C1492.0,286.6 1493.2,290.0 1495.7,293.0 C1498.2,296.0 1501.6,304.6 1504.6,307.8 C1507.5,311.1 1510.5,311.3 1513.5,312.3 C1516.5,313.3 1520.9,313.5 1522.4,313.8" stroke="#c046bc" stroke-width="5.2" fill="none" stroke-linecap="round" stroke-linejoin="round"/>
<path d="M1139.4,321.2 C1145.8,321.0 1170.1,321.9 1178.0,319.7 C1185.9,317.5 1183.4,312.8 1186.9,307.8 C1190.4,302.9 1192.8,293.7 1198.8,290.0 C1204.7,286.3 1214.6,287.1 1222.5,285.6 C1230.4,284.1 1240.3,283.3 1246.3,281.1 C1252.2,278.9 1253.7,277.7 1258.2,272.2 C1262.6,266.8 1267.1,255.1 1273.0,248.5 C1278.9,241.8 1286.4,235.1 1293.8,232.1 C1301.2,229.2 1309.6,231.4 1317.5,230.6 C1325.4,229.9 1335.7,228.7 1341.3,227.7 C1346.8,226.7 1347.8,227.2 1350.8,224.7 C1353.8,222.2 1355.7,218.8 1359.1,212.8 C1362.5,206.9 1365.5,196.0 1371.0,189.1 C1376.4,182.1 1386.3,174.0 1391.8,171.3 C1397.2,168.5 1399.7,171.3 1403.6,172.7 C1407.6,174.2 1411.1,176.0 1415.5,180.2 C1420.0,184.4 1426.4,190.6 1430.4,198.0 C1434.3,205.4 1436.3,215.8 1439.3,224.7 C1442.2,233.6 1445.4,246.7 1448.2,251.4 C1450.9,256.1 1453.1,251.4 1455.6,252.9 C1458.1,254.4 1460.3,255.1 1463.0,260.3 C1465.7,265.5 1469.2,275.2 1471.9,284.1 C1474.6,293.0 1476.9,304.9 1479.3,313.8 C1481.8,322.7 1484.5,333.3 1486.8,337.5 C1489.0,341.7 1490.2,340.5 1492.7,339.0 C1495.2,337.5 1498.7,332.1 1501.6,328.6 C1504.6,325.2 1507.1,320.2 1510.5,318.2 C1514.0,316.3 1520.4,317.0 1522.4,316.8" stroke="#c046bc" stroke-width="5.2" fill="none" stroke-linecap="butt" stroke-linejoin="round" stroke-dasharray="12.5 8.5"/>
<line x1="1136.4" y1="123.8" x2="1136.4" y2="512" stroke="#c3c4c4" stroke-width="4.3" stroke-linecap="butt"/>
<line x1="1186.9" y1="123.8" x2="1186.9" y2="512" stroke="#c3c4c4" stroke-width="4.3" stroke-linecap="butt"/>
<line x1="1241.2" y1="123.8" x2="1241.2" y2="512" stroke="#c3c4c4" stroke-width="4.3" stroke-linecap="butt"/>
<line x1="1350.8" y1="138.6" x2="1350.8" y2="512" stroke="#c3c4c4" stroke-width="4.3" stroke-linecap="butt" stroke-dasharray="20 19.5"/>
<line x1="1405.7" y1="123.8" x2="1405.7" y2="512" stroke="#c3c4c4" stroke-width="4.3" stroke-linecap="butt"/>
<line x1="1432.7" y1="138.6" x2="1432.7" y2="512" stroke="#c3c4c4" stroke-width="4.3" stroke-linecap="butt" stroke-dasharray="20 19.5"/>
<line x1="1460" y1="123.8" x2="1460" y2="512" stroke="#c3c4c4" stroke-width="4.3" stroke-linecap="butt"/>
<line x1="1132.5" y1="120.8" x2="1132.5" y2="514.25" stroke="#141414" stroke-width="4.5" stroke-linecap="butt"/>
<line x1="1130.25" y1="512" x2="1524" y2="512" stroke="#141414" stroke-width="4.5" stroke-linecap="butt"/>
<rect x="1183.9" y="509.25" width="6" height="5.5" fill="#fff"/>
<rect x="1238.2" y="509.25" width="6" height="5.5" fill="#fff"/>
<rect x="1347.8" y="509.25" width="6" height="5.5" fill="#fff"/>
<rect x="1429.7" y="509.25" width="6" height="5.5" fill="#fff"/>
<text x="1179.4" y="542.8" font-size="32.5" text-anchor="end" fill="#141414" font-weight="normal" font-style="normal" font-family="'Liberation Sans', Arial, Helvetica, sans-serif" transform="rotate(-30 1179.4 542.8)">sample</text>
<text x="1239" y="542.8" font-size="32.5" text-anchor="end" fill="#141414" font-weight="normal" font-style="normal" font-family="'Liberation Sans', Arial, Helvetica, sans-serif" transform="rotate(-30 1239 542.8)">delay</text>
<text x="1295.6" y="542.8" font-size="32.5" text-anchor="end" fill="#141414" font-weight="normal" font-style="normal" font-family="'Liberation Sans', Arial, Helvetica, sans-serif" transform="rotate(-30 1295.6 542.8)">test</text>
<text x="1432.9" y="542.8" font-size="32.5" text-anchor="end" fill="#141414" font-weight="normal" font-style="normal" font-family="'Liberation Sans', Arial, Helvetica, sans-serif" transform="rotate(-30 1432.9 542.8)">turn</text>
<text x="1500.8" y="542.8" font-size="32.5" text-anchor="end" fill="#141414" font-weight="normal" font-style="normal" font-family="'Liberation Sans', Arial, Helvetica, sans-serif" transform="rotate(-30 1500.8 542.8)">reward</text>
<text x="1114.7" y="317.4" font-size="32" text-anchor="middle" fill="#141414" font-weight="normal" font-style="normal" font-family="'Liberation Sans', Arial, Helvetica, sans-serif" transform="rotate(-90 1114.7 317.4)" textLength="289" lengthAdjust="spacing">lateral velocity (a.u.)</text>
<line x1="91.4" y1="886.2" x2="477.7" y2="886.2" stroke="#141414" stroke-width="4" stroke-linecap="butt"/>
<path d="M97.4,888.6 C99.1,891.1 104.1,900.1 107.9,903.6 C111.6,907.1 115.4,909.6 119.8,909.6 C124.3,909.6 129.8,906.1 134.8,903.6 C139.8,901.1 144.3,896.6 149.8,894.6 C155.3,892.6 161.8,892.1 167.8,891.6 C173.8,891.1 180.2,891.4 185.7,891.6 C191.2,891.9 196.7,890.1 200.7,893.1 C204.7,896.1 206.2,902.4 209.7,909.6 C213.2,916.8 218.2,931.8 221.7,936.5 C225.2,941.3 227.2,942.5 230.7,938.0 C234.2,933.5 239.1,916.3 242.6,909.6 C246.1,902.9 244.1,899.6 251.6,897.6 C259.1,895.6 279.1,898.6 287.6,897.6 C296.0,896.6 299.0,891.6 302.5,891.6 C306.0,891.6 306.0,893.6 308.5,897.6 C311.0,901.6 315.0,910.6 317.5,915.6 C320.0,920.6 321.0,926.6 323.5,927.6 C326.0,928.6 329.0,927.6 332.5,921.6 C336.0,915.6 340.5,902.6 344.5,891.6 C348.5,880.6 352.0,866.2 356.4,855.7 C360.9,845.2 367.4,831.7 371.4,828.7 C375.4,825.7 377.4,832.7 380.4,837.7 C383.4,842.7 385.9,854.7 389.4,858.7 C392.9,862.7 397.6,862.2 401.4,861.7 C405.1,861.2 408.9,867.7 411.9,855.7 C414.8,843.7 417.1,808.3 419.3,789.8 C421.6,771.3 423.3,755.4 425.3,744.9 C427.3,734.4 429.3,726.4 431.3,726.9 C433.3,727.4 435.3,733.9 437.3,747.9 C439.3,761.8 441.3,787.8 443.3,810.8 C445.3,833.7 447.5,866.7 449.3,885.6 C451.0,904.6 452.3,916.6 453.8,924.6 C455.3,932.6 456.3,935.0 458.3,933.5 C460.3,932.1 463.3,921.6 465.8,915.6 C468.3,909.6 471.3,901.4 473.2,897.6 C475.2,893.9 477.0,893.9 477.7,893.1" stroke="#c8f3f5" stroke-width="13" fill="none" stroke-linecap="round" stroke-linejoin="round" opacity="0.75"/>
<path d="M97.4,885.0 C101.1,884.4 113.1,882.3 119.8,881.1 C126.6,880.0 131.8,879.1 137.8,878.1 C143.8,877.2 149.8,875.4 155.8,875.1 C161.8,874.9 167.3,875.4 173.8,876.6 C180.2,877.9 190.0,880.6 194.7,882.6 C199.5,884.6 199.7,895.1 202.2,888.6 C204.7,882.1 206.9,859.2 209.7,843.7 C212.4,828.2 215.9,806.8 218.7,795.8 C221.4,784.8 223.7,777.8 226.2,777.8 C228.7,777.8 230.9,784.8 233.7,795.8 C236.4,806.8 239.6,832.2 242.6,843.7 C245.6,855.2 247.6,858.7 251.6,864.7 C255.6,870.7 260.6,877.1 266.6,879.6 C272.6,882.1 280.6,882.1 287.6,879.6 C294.5,877.1 303.5,869.2 308.5,864.7 C313.5,860.2 313.5,855.7 317.5,852.7 C321.5,849.7 328.5,846.7 332.5,846.7 C336.5,846.7 338.0,847.7 341.5,852.7 C345.0,857.7 349.5,868.2 353.4,876.6 C357.4,885.1 361.4,896.6 365.4,903.6 C369.4,910.6 373.4,916.1 377.4,918.6 C381.4,921.1 385.9,920.6 389.4,918.6 C392.9,916.6 395.4,910.6 398.4,906.6 C401.4,902.6 404.9,895.1 407.4,894.6 C409.9,894.1 411.4,897.1 413.4,903.6 C415.3,910.1 417.3,920.1 419.3,933.5 C421.3,947.0 423.3,968.0 425.3,984.5 C427.3,1000.9 429.3,1027.4 431.3,1032.4 C433.3,1037.4 435.3,1029.9 437.3,1014.4 C439.3,998.9 441.3,963.0 443.3,939.5 C445.3,916.1 447.3,889.6 449.3,873.6 C451.3,857.7 453.3,846.7 455.3,843.7 C457.3,840.7 458.8,849.7 461.3,855.7 C463.8,861.7 467.8,875.6 470.2,879.6 C472.7,883.6 475.2,879.6 476.2,879.6" stroke="#c8f3f5" stroke-width="14" fill="none" stroke-linecap="round" stroke-linejoin="round" opacity="0.75"/>
<path d="M97.4,885.0 C101.1,884.4 113.1,882.3 119.8,881.1 C126.6,880.0 131.8,879.4 137.8,878.1 C143.8,876.9 149.8,873.6 155.8,873.6 C161.8,873.6 167.8,876.4 173.8,878.1 C179.8,879.9 187.2,881.9 191.7,884.1 C196.2,886.4 197.7,885.9 200.7,891.6 C203.7,897.4 206.7,907.6 209.7,918.6 C212.7,929.6 215.9,946.3 218.7,957.5 C221.4,968.7 223.7,984.5 226.2,986.0 C228.7,987.5 230.9,978.2 233.7,966.5 C236.4,954.8 239.6,928.6 242.6,915.6 C245.6,902.6 247.1,892.9 251.6,888.6 C256.1,884.4 263.6,889.4 269.6,890.1 C275.6,890.9 282.1,891.9 287.6,893.1 C293.1,894.4 299.0,894.9 302.5,897.6 C306.0,900.4 306.0,903.6 308.5,909.6 C311.0,915.6 315.0,928.1 317.5,933.5 C320.0,939.0 321.0,943.0 323.5,942.5 C326.0,942.0 329.0,939.0 332.5,930.6 C336.0,922.1 340.5,904.1 344.5,891.6 C348.5,879.1 352.0,866.2 356.4,855.7 C360.9,845.2 367.4,831.7 371.4,828.7 C375.4,825.7 377.4,832.7 380.4,837.7 C383.4,842.7 385.9,854.7 389.4,858.7 C392.9,862.7 397.6,862.2 401.4,861.7 C405.1,861.2 408.9,867.7 411.9,855.7 C414.8,843.7 417.1,808.3 419.3,789.8 C421.6,771.3 423.3,755.4 425.3,744.9 C427.3,734.4 429.3,726.4 431.3,726.9 C433.3,727.4 435.3,733.9 437.3,747.9 C439.3,761.8 441.3,787.8 443.3,810.8 C445.3,833.7 447.5,866.7 449.3,885.6 C451.0,904.6 452.3,916.6 453.8,924.6 C455.3,932.6 456.3,935.0 458.3,933.5 C460.3,932.1 463.3,921.6 465.8,915.6 C468.3,909.6 471.3,901.4 473.2,897.6 C475.2,893.9 477.0,893.9 477.7,893.1" stroke="#eea6ee" stroke-width="12" fill="none" stroke-linecap="round" stroke-linejoin="round" opacity="0.75"/>
<path d="M97.4,885.0 C101.1,884.4 113.1,882.3 119.8,881.1 C126.6,880.0 131.8,879.1 137.8,878.1 C143.8,877.2 149.8,875.4 155.8,875.1 C161.8,874.9 167.3,875.4 173.8,876.6 C180.2,877.9 190.0,880.6 194.7,882.6 C199.5,884.6 199.7,891.1 202.2,888.6 C204.7,886.1 206.9,874.6 209.7,867.7 C212.4,860.7 215.7,851.9 218.7,846.7 C221.7,841.5 224.7,835.2 227.7,836.2 C230.7,837.2 233.7,846.0 236.7,852.7 C239.6,859.4 242.1,871.3 245.6,876.6 C249.1,882.0 253.1,883.5 257.6,885.0 C262.1,886.5 267.6,886.5 272.6,885.6 C277.6,884.7 282.6,881.6 287.6,879.6 C292.6,877.6 298.5,876.1 302.5,873.6 C306.5,871.2 308.3,867.7 311.5,864.7 C314.8,861.7 318.5,855.2 322.0,855.7 C325.5,856.2 328.2,861.7 332.5,867.7 C336.7,873.6 342.5,884.1 347.5,891.6 C352.4,899.1 357.9,907.6 362.4,912.6 C366.9,917.6 370.4,920.3 374.4,921.6 C378.4,922.8 382.4,922.6 386.4,920.1 C390.4,917.6 394.9,910.8 398.4,906.6 C401.9,902.4 404.9,895.1 407.4,894.6 C409.9,894.1 411.4,897.1 413.4,903.6 C415.3,910.1 417.3,920.1 419.3,933.5 C421.3,947.0 423.3,968.0 425.3,984.5 C427.3,1000.9 429.3,1027.4 431.3,1032.4 C433.3,1037.4 435.3,1029.9 437.3,1014.4 C439.3,998.9 441.3,963.0 443.3,939.5 C445.3,916.1 447.3,889.6 449.3,873.6 C451.3,857.7 453.3,846.7 455.3,843.7 C457.3,840.7 458.8,849.7 461.3,855.7 C463.8,861.7 467.8,875.6 470.2,879.6 C472.7,883.6 475.2,879.6 476.2,879.6" stroke="#eea6ee" stroke-width="12" fill="none" stroke-linecap="round" stroke-linejoin="round" opacity="0.75"/>
<path d="M97.4,888.6 C99.1,891.1 104.1,900.1 107.9,903.6 C111.6,907.1 115.4,909.6 119.8,909.6 C124.3,909.6 129.8,906.1 134.8,903.6 C139.8,901.1 144.3,896.6 149.8,894.6 C155.3,892.6 161.8,892.1 167.8,891.6 C173.8,891.1 180.2,891.4 185.7,891.6 C191.2,891.9 196.7,890.1 200.7,893.1 C204.7,896.1 206.2,902.4 209.7,909.6 C213.2,916.8 218.2,931.8 221.7,936.5 C225.2,941.3 227.2,942.5 230.7,938.0 C234.2,933.5 239.1,916.3 242.6,909.6 C246.1,902.9 244.1,899.6 251.6,897.6 C259.1,895.6 279.1,898.6 287.6,897.6 C296.0,896.6 299.0,891.6 302.5,891.6 C306.0,891.6 306.0,893.6 308.5,897.6 C311.0,901.6 315.0,910.6 317.5,915.6 C320.0,920.6 321.0,926.6 323.5,927.6 C326.0,928.6 329.0,927.6 332.5,921.6 C336.0,915.6 340.5,902.6 344.5,891.6 C348.5,880.6 352.0,866.2 356.4,855.7 C360.9,845.2 367.4,831.7 371.4,828.7 C375.4,825.7 377.4,832.7 380.4,837.7 C383.4,842.7 385.9,854.7 389.4,858.7 C392.9,862.7 397.6,862.2 401.4,861.7 C405.1,861.2 408.9,867.7 411.9,855.7 C414.8,843.7 417.1,808.3 419.3,789.8 C421.6,771.3 423.3,755.4 425.3,744.9 C427.3,734.4 429.3,726.4 431.3,726.9 C433.3,727.4 435.3,733.9 437.3,747.9 C439.3,761.8 441.3,787.8 443.3,810.8 C445.3,833.7 447.5,866.7 449.3,885.6 C451.0,904.6 452.3,916.6 453.8,924.6 C455.3,932.6 456.3,935.0 458.3,933.5 C460.3,932.1 463.3,921.6 465.8,915.6 C468.3,909.6 471.3,901.4 473.2,897.6 C475.2,893.9 477.0,893.9 477.7,893.1" stroke="#98e0e3" stroke-width="4.8" fill="none" stroke-linecap="round" stroke-linejoin="round"/>
<path d="M97.4,885.0 C101.1,884.4 113.1,882.3 119.8,881.1 C126.6,880.0 131.8,879.1 137.8,878.1 C143.8,877.2 149.8,875.4 155.8,875.1 C161.8,874.9 167.3,875.4 173.8,876.6 C180.2,877.9 190.0,880.6 194.7,882.6 C199.5,884.6 199.7,895.1 202.2,888.6 C204.7,882.1 206.9,859.2 209.7,843.7 C212.4,828.2 215.9,806.8 218.7,795.8 C221.4,784.8 223.7,777.8 226.2,777.8 C228.7,777.8 230.9,784.8 233.7,795.8 C236.4,806.8 239.6,832.2 242.6,843.7 C245.6,855.2 247.6,858.7 251.6,864.7 C255.6,870.7 260.6,877.1 266.6,879.6 C272.6,882.1 280.6,882.1 287.6,879.6 C294.5,877.1 303.5,869.2 308.5,864.7 C313.5,860.2 313.5,855.7 317.5,852.7 C321.5,849.7 328.5,846.7 332.5,846.7 C336.5,846.7 338.0,847.7 341.5,852.7 C345.0,857.7 349.5,868.2 353.4,876.6 C357.4,885.1 361.4,896.6 365.4,903.6 C369.4,910.6 373.4,916.1 377.4,918.6 C381.4,921.1 385.9,920.6 389.4,918.6 C392.9,916.6 395.4,910.6 398.4,906.6 C401.4,902.6 404.9,895.1 407.4,894.6 C409.9,894.1 411.4,897.1 413.4,903.6 C415.3,910.1 417.3,920.1 419.3,933.5 C421.3,947.0 423.3,968.0 425.3,984.5 C427.3,1000.9 429.3,1027.4 431.3,1032.4 C433.3,1037.4 435.3,1029.9 437.3,1014.4 C439.3,998.9 441.3,963.0 443.3,939.5 C445.3,916.1 447.3,889.6 449.3,873.6 C451.3,857.7 453.3,846.7 455.3,843.7 C457.3,840.7 458.8,849.7 461.3,855.7 C463.8,861.7 467.8,875.6 470.2,879.6 C472.7,883.6 475.2,879.6 476.2,879.6" stroke="#98e0e3" stroke-width="4.8" fill="none" stroke-linecap="butt" stroke-linejoin="round" stroke-dasharray="12.5 8.5"/>
<path d="M97.4,885.0 C101.1,884.4 113.1,882.3 119.8,881.1 C126.6,880.0 131.8,879.4 137.8,878.1 C143.8,876.9 149.8,873.6 155.8,873.6 C161.8,873.6 167.8,876.4 173.8,878.1 C179.8,879.9 187.2,881.9 191.7,884.1 C196.2,886.4 197.7,885.9 200.7,891.6 C203.7,897.4 206.7,907.6 209.7,918.6 C212.7,929.6 215.9,946.3 218.7,957.5 C221.4,968.7 223.7,984.5 226.2,986.0 C228.7,987.5 230.9,978.2 233.7,966.5 C236.4,954.8 239.6,928.6 242.6,915.6 C245.6,902.6 247.1,892.9 251.6,888.6 C256.1,884.4 263.6,889.4 269.6,890.1 C275.6,890.9 282.1,891.9 287.6,893.1 C293.1,894.4 299.0,894.9 302.5,897.6 C306.0,900.4 306.0,903.6 308.5,909.6 C311.0,915.6 315.0,928.1 317.5,933.5 C320.0,939.0 321.0,943.0 323.5,942.5 C326.0,942.0 329.0,939.0 332.5,930.6 C336.0,922.1 340.5,904.1 344.5,891.6 C348.5,879.1 352.0,866.2 356.4,855.7 C360.9,845.2 367.4,831.7 371.4,828.7 C375.4,825.7 377.4,832.7 380.4,837.7 C383.4,842.7 385.9,854.7 389.4,858.7 C392.9,862.7 397.6,862.2 401.4,861.7 C405.1,861.2 408.9,867.7 411.9,855.7 C414.8,843.7 417.1,808.3 419.3,789.8 C421.6,771.3 423.3,755.4 425.3,744.9 C427.3,734.4 429.3,726.4 431.3,726.9 C433.3,727.4 435.3,733.9 437.3,747.9 C439.3,761.8 441.3,787.8 443.3,810.8 C445.3,833.7 447.5,866.7 449.3,885.6 C451.0,904.6 452.3,916.6 453.8,924.6 C455.3,932.6 456.3,935.0 458.3,933.5 C460.3,932.1 463.3,921.6 465.8,915.6 C468.3,909.6 471.3,901.4 473.2,897.6 C475.2,893.9 477.0,893.9 477.7,893.1" stroke="#c046bc" stroke-width="5.2" fill="none" stroke-linecap="round" stroke-linejoin="round"/>
<path d="M97.4,885.0 C101.1,884.4 113.1,882.3 119.8,881.1 C126.6,880.0 131.8,879.1 137.8,878.1 C143.8,877.2 149.8,875.4 155.8,875.1 C161.8,874.9 167.3,875.4 173.8,876.6 C180.2,877.9 190.0,880.6 194.7,882.6 C199.5,884.6 199.7,891.1 202.2,888.6 C204.7,886.1 206.9,874.6 209.7,867.7 C212.4,860.7 215.7,851.9 218.7,846.7 C221.7,841.5 224.7,835.2 227.7,836.2 C230.7,837.2 233.7,846.0 236.7,852.7 C239.6,859.4 242.1,871.3 245.6,876.6 C249.1,882.0 253.1,883.5 257.6,885.0 C262.1,886.5 267.6,886.5 272.6,885.6 C277.6,884.7 282.6,881.6 287.6,879.6 C292.6,877.6 298.5,876.1 302.5,873.6 C306.5,871.2 308.3,867.7 311.5,864.7 C314.8,861.7 318.5,855.2 322.0,855.7 C325.5,856.2 328.2,861.7 332.5,867.7 C336.7,873.6 342.5,884.1 347.5,891.6 C352.4,899.1 357.9,907.6 362.4,912.6 C366.9,917.6 370.4,920.3 374.4,921.6 C378.4,922.8 382.4,922.6 386.4,920.1 C390.4,917.6 394.9,910.8 398.4,906.6 C401.9,902.4 404.9,895.1 407.4,894.6 C409.9,894.1 411.4,897.1 413.4,903.6 C415.3,910.1 417.3,920.1 419.3,933.5 C421.3,947.0 423.3,968.0 425.3,984.5 C427.3,1000.9 429.3,1027.4 431.3,1032.4 C433.3,1037.4 435.3,1029.9 437.3,1014.4 C439.3,998.9 441.3,963.0 443.3,939.5 C445.3,916.1 447.3,889.6 449.3,873.6 C451.3,857.7 453.3,846.7 455.3,843.7 C457.3,840.7 458.8,849.7 461.3,855.7 C463.8,861.7 467.8,875.6 470.2,879.6 C472.7,883.6 475.2,879.6 476.2,879.6" stroke="#c046bc" stroke-width="5.2" fill="none" stroke-linecap="butt" stroke-linejoin="round" stroke-dasharray="12.5 8.5"/>
<line x1="96.5" y1="695.5" x2="96.5" y2="1078.2" stroke="#c3c4c4" stroke-width="4.3" stroke-linecap="butt"/>
<line x1="146.8" y1="695.5" x2="146.8" y2="1078.2" stroke="#c3c4c4" stroke-width="4.3" stroke-linecap="butt"/>
<line x1="200.1" y1="695.5" x2="200.1" y2="1078.2" stroke="#c3c4c4" stroke-width="4.3" stroke-linecap="butt"/>
<line x1="307.9" y1="706" x2="307.9" y2="1078.2" stroke="#c3c4c4" stroke-width="4.3" stroke-linecap="butt" stroke-dasharray="19.5 19.5"/>
<line x1="361.8" y1="695.5" x2="361.8" y2="1078.2" stroke="#c3c4c4" stroke-width="4.3" stroke-linecap="butt"/>
<line x1="388.8" y1="706" x2="388.8" y2="1078.2" stroke="#c3c4c4" stroke-width="4.3" stroke-linecap="butt" stroke-dasharray="19.5 19.5"/>
<line x1="415.7" y1="695.5" x2="415.7" y2="1078.2" stroke="#c3c4c4" stroke-width="4.3" stroke-linecap="butt"/>
<line x1="91.4" y1="693.4" x2="91.4" y2="1080.45" stroke="#141414" stroke-width="4.5" stroke-linecap="butt"/>
<line x1="89.15" y1="1078.2" x2="477.7" y2="1078.2" stroke="#141414" stroke-width="4.5" stroke-linecap="butt"/>
<rect x="143.8" y="1075.45" width="6" height="5.5" fill="#fff"/>
<rect x="197.1" y="1075.45" width="6" height="5.5" fill="#fff"/>
<rect x="304.9" y="1075.45" width="6" height="5.5" fill="#fff"/>
<rect x="385.8" y="1075.45" width="6" height="5.5" fill="#fff"/>
<text x="135.4" y="1112" font-size="32.5" text-anchor="end" fill="#141414" font-weight="normal" font-style="normal" font-family="'Liberation Sans', Arial, Helvetica, sans-serif" transform="rotate(-30 135.4 1112)">sample</text>
<text x="194.6" y="1112" font-size="32.5" text-anchor="end" fill="#141414" font-weight="normal" font-style="normal" font-family="'Liberation Sans', Arial, Helvetica, sans-serif" transform="rotate(-30 194.6 1112)">delay</text>
<text x="251.5" y="1112" font-size="32.5" text-anchor="end" fill="#141414" font-weight="normal" font-style="normal" font-family="'Liberation Sans', Arial, Helvetica, sans-serif" transform="rotate(-30 251.5 1112)">test</text>
<text x="388.8" y="1112" font-size="32.5" text-anchor="end" fill="#141414" font-weight="normal" font-style="normal" font-family="'Liberation Sans', Arial, Helvetica, sans-serif" transform="rotate(-30 388.8 1112)">turn</text>
<text x="455.6" y="1112" font-size="32.5" text-anchor="end" fill="#141414" font-weight="normal" font-style="normal" font-family="'Liberation Sans', Arial, Helvetica, sans-serif" transform="rotate(-30 455.6 1112)">reward</text>
<text x="79.9" y="886.2" font-size="32" text-anchor="middle" fill="#141414" font-weight="normal" font-style="normal" font-family="'Liberation Sans', Arial, Helvetica, sans-serif" transform="rotate(-90 79.9 886.2)" textLength="356" lengthAdjust="spacing">lateral&#160; accelaration (a.u.)</text>
<path d="M621.4,822.8 C622.7,823.8 626.8,829.3 629.5,829.3 C632.2,829.3 634.1,829.3 637.7,822.8 C641.2,816.2 646.3,800.0 650.7,790.2 C655.0,780.4 659.9,772.6 663.7,764.2 C667.5,755.8 670.2,747.1 673.5,739.8 C676.7,732.4 680.0,724.0 683.2,720.2 C686.5,716.4 689.7,717.2 693.0,717.0 C696.2,716.7 699.5,717.2 702.8,718.6 C706.0,719.9 709.3,722.1 712.5,725.1 C715.8,728.1 719.6,731.1 722.3,736.5 C725.0,741.9 726.6,749.3 728.8,757.7 C731.0,766.1 732.6,775.6 735.3,787.0 C738.0,798.3 741.8,811.9 745.1,826.0 C748.3,840.1 751.6,856.9 754.8,871.6 C758.1,886.2 761.9,903.1 764.6,913.9 C767.3,924.8 768.4,931.3 771.1,936.7 C773.8,942.1 776.0,943.7 780.9,946.5 C785.8,949.2 794.5,950.8 800.4,953.0 C806.4,955.1 811.3,957.3 816.7,959.5 C822.1,961.6 828.9,964.4 833.0,966.0 C837.0,967.6 838.7,975.8 841.1,969.2 C843.6,962.7 845.5,938.9 847.6,926.9 C849.8,915.0 851.7,903.6 854.1,897.6 C856.6,891.7 859.3,891.1 862.3,891.1 C865.3,891.1 868.2,893.3 872.0,897.6 C875.8,902.0 880.7,910.1 885.0,917.2 C889.4,924.2 893.7,931.8 898.1,940.0 C902.4,948.1 906.8,957.3 911.1,966.0 C915.4,974.7 920.3,983.3 924.1,992.0 C927.9,1000.7 930.6,1008.8 933.9,1018.1 C937.1,1027.3 940.4,1041.1 943.6,1047.4 C946.9,1053.6 950.2,1053.1 953.4,1055.5 C956.7,1058.0 958.8,1059.5 963.2,1062.0 C967.5,1064.6 974.0,1069.2 979.5,1070.8 C984.9,1072.4 990.8,1071.6 995.7,1071.5 C1000.6,1071.4 1004.4,1070.6 1008.8,1070.2 C1013.1,1069.7 1019.6,1069.1 1021.8,1068.8" stroke="#c8f3f5" stroke-width="14" fill="none" stroke-linecap="round" stroke-linejoin="round" opacity="0.75"/>
<path d="M621.4,819.5 C622.7,820.6 626.8,826.0 629.5,826.0 C632.2,826.0 634.1,825.8 637.7,819.5 C641.2,813.3 646.3,797.8 650.7,788.6 C655.0,779.4 659.9,772.3 663.7,764.2 C667.5,756.0 670.2,747.1 673.5,739.8 C676.7,732.4 680.0,723.9 683.2,720.2 C686.5,716.5 689.7,717.9 693.0,717.6 C696.2,717.3 699.5,717.3 702.8,718.6 C706.0,719.8 709.3,722.1 712.5,725.1 C715.8,728.1 719.6,731.1 722.3,736.5 C725.0,741.9 726.6,749.3 728.8,757.7 C731.0,766.1 732.6,775.6 735.3,787.0 C738.0,798.3 741.8,811.9 745.1,826.0 C748.3,840.1 751.6,856.4 754.8,871.6 C758.1,886.8 761.4,906.3 764.6,917.2 C767.9,928.0 770.6,932.9 774.4,936.7 C778.2,940.5 783.1,939.1 787.4,940.0 C791.7,940.8 795.5,941.6 800.4,941.6 C805.3,941.6 811.3,940.5 816.7,940.0 C822.1,939.4 828.9,938.3 833.0,938.3 C837.0,938.3 838.7,942.9 841.1,940.0 C843.6,937.0 845.5,928.0 847.6,920.4 C849.8,912.8 851.7,899.8 854.1,894.4 C856.6,889.0 859.3,887.9 862.3,887.9 C865.3,887.9 868.2,890.0 872.0,894.4 C875.8,898.7 880.7,906.9 885.0,913.9 C889.4,921.0 893.7,928.6 898.1,936.7 C902.4,944.8 906.8,954.0 911.1,962.7 C915.4,971.4 920.3,980.1 924.1,988.8 C927.9,997.5 930.6,1005.3 933.9,1014.8 C937.1,1024.3 940.4,1039.1 943.6,1045.7 C946.9,1052.4 950.2,1052.0 953.4,1054.5 C956.7,1057.1 958.8,1058.4 963.2,1061.0 C967.5,1063.6 974.0,1068.5 979.5,1070.2 C984.9,1071.8 990.8,1070.9 995.7,1070.8 C1000.6,1070.7 1004.4,1069.8 1008.8,1069.5 C1013.1,1069.2 1019.6,1069.0 1021.8,1068.8" stroke="#c8f3f5" stroke-width="14" fill="none" stroke-linecap="round" stroke-linejoin="round" opacity="0.75"/>
<path d="M621.4,842.3 C622.7,843.9 626.8,852.1 629.5,852.1 C632.2,852.1 634.1,848.8 637.7,842.3 C641.2,835.8 646.3,822.8 650.7,813.0 C655.0,803.2 659.9,794.3 663.7,783.7 C667.5,773.1 670.2,760.1 673.5,749.5 C676.7,738.9 680.0,726.5 683.2,720.2 C686.5,714.0 689.7,713.3 693.0,712.1 C696.2,710.8 699.5,711.6 702.8,712.7 C706.0,713.8 709.3,715.4 712.5,718.6 C715.8,721.7 719.6,725.6 722.3,731.6 C725.0,737.6 726.6,745.7 728.8,754.4 C731.0,763.1 732.6,772.3 735.3,783.7 C738.0,795.1 741.8,808.1 745.1,822.8 C748.3,837.4 751.6,855.3 754.8,871.6 C758.1,887.9 761.9,907.9 764.6,920.4 C767.3,932.9 769.0,940.5 771.1,946.5 C773.3,952.4 774.9,954.1 777.6,956.2 C780.3,958.4 783.6,957.6 787.4,959.5 C791.2,961.4 796.1,964.9 800.4,967.6 C804.8,970.3 809.1,973.6 813.4,975.8 C817.8,977.9 822.7,980.1 826.5,980.6 C830.3,981.2 833.8,979.8 836.2,979.0 C838.7,978.2 839.5,983.9 841.1,975.8 C842.7,967.6 844.1,944.8 846.0,930.2 C847.9,915.5 850.1,897.1 852.5,887.9 C854.9,878.6 857.4,875.9 860.6,874.8 C863.9,873.8 868.0,876.5 872.0,881.4 C876.1,886.2 880.7,896.0 885.0,904.1 C889.4,912.3 893.7,921.0 898.1,930.2 C902.4,939.4 906.8,950.3 911.1,959.5 C915.4,968.7 920.3,976.8 924.1,985.5 C927.9,994.2 930.6,1001.8 933.9,1011.6 C937.1,1021.3 940.4,1037.1 943.6,1044.1 C946.9,1051.2 950.2,1051.2 953.4,1053.9 C956.7,1056.6 958.8,1057.7 963.2,1060.4 C967.5,1063.1 974.0,1068.4 979.5,1070.2 C984.9,1071.9 990.8,1070.9 995.7,1070.8 C1000.6,1070.7 1004.4,1069.9 1008.8,1069.5 C1013.1,1069.1 1019.6,1068.7 1021.8,1068.5" stroke="#eea6ee" stroke-width="15" fill="none" stroke-linecap="round" stroke-linejoin="round" opacity="0.75"/>
<path d="M621.4,835.8 C622.7,837.1 626.8,843.9 629.5,843.9 C632.2,843.9 634.1,842.0 637.7,835.8 C641.2,829.5 646.3,816.0 650.7,806.5 C655.0,797.0 659.9,788.6 663.7,778.8 C667.5,769.1 670.2,757.4 673.5,747.9 C676.7,738.4 680.0,727.3 683.2,721.9 C686.5,716.4 689.7,716.3 693.0,715.3 C696.2,714.4 699.5,714.9 702.8,716.0 C706.0,717.1 709.3,719.0 712.5,721.9 C715.8,724.7 719.6,727.8 722.3,733.2 C725.0,738.7 726.6,746.0 728.8,754.4 C731.0,762.8 732.6,772.3 735.3,783.7 C738.0,795.1 741.8,808.7 745.1,822.8 C748.3,836.9 752.1,854.2 754.8,868.3 C757.6,882.4 758.1,898.7 761.4,907.4 C764.6,916.1 770.0,917.8 774.4,920.4 C778.7,923.0 783.1,922.2 787.4,923.0 C791.7,923.8 795.5,924.1 800.4,925.3 C805.3,926.5 811.3,928.0 816.7,930.2 C822.1,932.3 828.9,936.4 833.0,938.3 C837.0,940.2 838.7,944.6 841.1,941.6 C843.6,938.6 845.5,929.4 847.6,920.4 C849.8,911.5 851.7,893.8 854.1,887.9 C856.6,881.9 859.3,884.1 862.3,884.6 C865.3,885.2 868.2,887.3 872.0,891.1 C875.8,894.9 880.7,900.9 885.0,907.4 C889.4,913.9 893.7,922.0 898.1,930.2 C902.4,938.3 906.8,947.5 911.1,956.2 C915.4,964.9 920.3,973.6 924.1,982.3 C927.9,991.0 930.6,998.5 933.9,1008.3 C937.1,1018.1 940.4,1033.5 943.6,1040.9 C946.9,1048.2 950.2,1049.3 953.4,1052.2 C956.7,1055.2 958.8,1056.0 963.2,1058.8 C967.5,1061.5 974.0,1066.7 979.5,1068.5 C984.9,1070.3 990.8,1069.5 995.7,1069.5 C1000.6,1069.6 1004.4,1069.0 1008.8,1068.8 C1013.1,1068.7 1019.6,1068.6 1021.8,1068.5" stroke="#eea6ee" stroke-width="15" fill="none" stroke-linecap="round" stroke-linejoin="round" opacity="0.75"/>
<path d="M621.4,822.8 C622.7,823.8 626.8,829.3 629.5,829.3 C632.2,829.3 634.1,829.3 637.7,822.8 C641.2,816.2 646.3,800.0 650.7,790.2 C655.0,780.4 659.9,772.6 663.7,764.2 C667.5,755.8 670.2,747.1 673.5,739.8 C676.7,732.4 680.0,724.0 683.2,720.2 C686.5,716.4 689.7,717.2 693.0,717.0 C696.2,716.7 699.5,717.2 702.8,718.6 C706.0,719.9 709.3,722.1 712.5,725.1 C715.8,728.1 719.6,731.1 722.3,736.5 C725.0,741.9 726.6,749.3 728.8,757.7 C731.0,766.1 732.6,775.6 735.3,787.0 C738.0,798.3 741.8,811.9 745.1,826.0 C748.3,840.1 751.6,856.9 754.8,871.6 C758.1,886.2 761.9,903.1 764.6,913.9 C767.3,924.8 768.4,931.3 771.1,936.7 C773.8,942.1 776.0,943.7 780.9,946.5 C785.8,949.2 794.5,950.8 800.4,953.0 C806.4,955.1 811.3,957.3 816.7,959.5 C822.1,961.6 828.9,964.4 833.0,966.0 C837.0,967.6 838.7,975.8 841.1,969.2 C843.6,962.7 845.5,938.9 847.6,926.9 C849.8,915.0 851.7,903.6 854.1,897.6 C856.6,891.7 859.3,891.1 862.3,891.1 C865.3,891.1 868.2,893.3 872.0,897.6 C875.8,902.0 880.7,910.1 885.0,917.2 C889.4,924.2 893.7,931.8 898.1,940.0 C902.4,948.1 906.8,957.3 911.1,966.0 C915.4,974.7 920.3,983.3 924.1,992.0 C927.9,1000.7 930.6,1008.8 933.9,1018.1 C937.1,1027.3 940.4,1041.1 943.6,1047.4 C946.9,1053.6 950.2,1053.1 953.4,1055.5 C956.7,1058.0 958.8,1059.5 963.2,1062.0 C967.5,1064.6 974.0,1069.2 979.5,1070.8 C984.9,1072.4 990.8,1071.6 995.7,1071.5 C1000.6,1071.4 1004.4,1070.6 1008.8,1070.2 C1013.1,1069.7 1019.6,1069.1 1021.8,1068.8" stroke="#98e0e3" stroke-width="4.8" fill="none" stroke-linecap="round" stroke-linejoin="round"/>
<path d="M621.4,819.5 C622.7,820.6 626.8,826.0 629.5,826.0 C632.2,826.0 634.1,825.8 637.7,819.5 C641.2,813.3 646.3,797.8 650.7,788.6 C655.0,779.4 659.9,772.3 663.7,764.2 C667.5,756.0 670.2,747.1 673.5,739.8 C676.7,732.4 680.0,723.9 683.2,720.2 C686.5,716.5 689.7,717.9 693.0,717.6 C696.2,717.3 699.5,717.3 702.8,718.6 C706.0,719.8 709.3,722.1 712.5,725.1 C715.8,728.1 719.6,731.1 722.3,736.5 C725.0,741.9 726.6,749.3 728.8,757.7 C731.0,766.1 732.6,775.6 735.3,787.0 C738.0,798.3 741.8,811.9 745.1,826.0 C748.3,840.1 751.6,856.4 754.8,871.6 C758.1,886.8 761.4,906.3 764.6,917.2 C767.9,928.0 770.6,932.9 774.4,936.7 C778.2,940.5 783.1,939.1 787.4,940.0 C791.7,940.8 795.5,941.6 800.4,941.6 C805.3,941.6 811.3,940.5 816.7,940.0 C822.1,939.4 828.9,938.3 833.0,938.3 C837.0,938.3 838.7,942.9 841.1,940.0 C843.6,937.0 845.5,928.0 847.6,920.4 C849.8,912.8 851.7,899.8 854.1,894.4 C856.6,889.0 859.3,887.9 862.3,887.9 C865.3,887.9 868.2,890.0 872.0,894.4 C875.8,898.7 880.7,906.9 885.0,913.9 C889.4,921.0 893.7,928.6 898.1,936.7 C902.4,944.8 906.8,954.0 911.1,962.7 C915.4,971.4 920.3,980.1 924.1,988.8 C927.9,997.5 930.6,1005.3 933.9,1014.8 C937.1,1024.3 940.4,1039.1 943.6,1045.7 C946.9,1052.4 950.2,1052.0 953.4,1054.5 C956.7,1057.1 958.8,1058.4 963.2,1061.0 C967.5,1063.6 974.0,1068.5 979.5,1070.2 C984.9,1071.8 990.8,1070.9 995.7,1070.8 C1000.6,1070.7 1004.4,1069.8 1008.8,1069.5 C1013.1,1069.2 1019.6,1069.0 1021.8,1068.8" stroke="#98e0e3" stroke-width="4.8" fill="none" stroke-linecap="butt" stroke-linejoin="round" stroke-dasharray="12.5 8.5"/>
<path d="M621.4,842.3 C622.7,843.9 626.8,852.1 629.5,852.1 C632.2,852.1 634.1,848.8 637.7,842.3 C641.2,835.8 646.3,822.8 650.7,813.0 C655.0,803.2 659.9,794.3 663.7,783.7 C667.5,773.1 670.2,760.1 673.5,749.5 C676.7,738.9 680.0,726.5 683.2,720.2 C686.5,714.0 689.7,713.3 693.0,712.1 C696.2,710.8 699.5,711.6 702.8,712.7 C706.0,713.8 709.3,715.4 712.5,718.6 C715.8,721.7 719.6,725.6 722.3,731.6 C725.0,737.6 726.6,745.7 728.8,754.4 C731.0,763.1 732.6,772.3 735.3,783.7 C738.0,795.1 741.8,808.1 745.1,822.8 C748.3,837.4 751.6,855.3 754.8,871.6 C758.1,887.9 761.9,907.9 764.6,920.4 C767.3,932.9 769.0,940.5 771.1,946.5 C773.3,952.4 774.9,954.1 777.6,956.2 C780.3,958.4 783.6,957.6 787.4,959.5 C791.2,961.4 796.1,964.9 800.4,967.6 C804.8,970.3 809.1,973.6 813.4,975.8 C817.8,977.9 822.7,980.1 826.5,980.6 C830.3,981.2 833.8,979.8 836.2,979.0 C838.7,978.2 839.5,983.9 841.1,975.8 C842.7,967.6 844.1,944.8 846.0,930.2 C847.9,915.5 850.1,897.1 852.5,887.9 C854.9,878.6 857.4,875.9 860.6,874.8 C863.9,873.8 868.0,876.5 872.0,881.4 C876.1,886.2 880.7,896.0 885.0,904.1 C889.4,912.3 893.7,921.0 898.1,930.2 C902.4,939.4 906.8,950.3 911.1,959.5 C915.4,968.7 920.3,976.8 924.1,985.5 C927.9,994.2 930.6,1001.8 933.9,1011.6 C937.1,1021.3 940.4,1037.1 943.6,1044.1 C946.9,1051.2 950.2,1051.2 953.4,1053.9 C956.7,1056.6 958.8,1057.7 963.2,1060.4 C967.5,1063.1 974.0,1068.4 979.5,1070.2 C984.9,1071.9 990.8,1070.9 995.7,1070.8 C1000.6,1070.7 1004.4,1069.9 1008.8,1069.5 C1013.1,1069.1 1019.6,1068.7 1021.8,1068.5" stroke="#c046bc" stroke-width="5.2" fill="none" stroke-linecap="round" stroke-linejoin="round"/>
<path d="M621.4,835.8 C622.7,837.1 626.8,843.9 629.5,843.9 C632.2,843.9 634.1,842.0 637.7,835.8 C641.2,829.5 646.3,816.0 650.7,806.5 C655.0,797.0 659.9,788.6 663.7,778.8 C667.5,769.1 670.2,757.4 673.5,747.9 C676.7,738.4 680.0,727.3 683.2,721.9 C686.5,716.4 689.7,716.3 693.0,715.3 C696.2,714.4 699.5,714.9 702.8,716.0 C706.0,717.1 709.3,719.0 712.5,721.9 C715.8,724.7 719.6,727.8 722.3,733.2 C725.0,738.7 726.6,746.0 728.8,754.4 C731.0,762.8 732.6,772.3 735.3,783.7 C738.0,795.1 741.8,808.7 745.1,822.8 C748.3,836.9 752.1,854.2 754.8,868.3 C757.6,882.4 758.1,898.7 761.4,907.4 C764.6,916.1 770.0,917.8 774.4,920.4 C778.7,923.0 783.1,922.2 787.4,923.0 C791.7,923.8 795.5,924.1 800.4,925.3 C805.3,926.5 811.3,928.0 816.7,930.2 C822.1,932.3 828.9,936.4 833.0,938.3 C837.0,940.2 838.7,944.6 841.1,941.6 C843.6,938.6 845.5,929.4 847.6,920.4 C849.8,911.5 851.7,893.8 854.1,887.9 C856.6,881.9 859.3,884.1 862.3,884.6 C865.3,885.2 868.2,887.3 872.0,891.1 C875.8,894.9 880.7,900.9 885.0,907.4 C889.4,913.9 893.7,922.0 898.1,930.2 C902.4,938.3 906.8,947.5 911.1,956.2 C915.4,964.9 920.3,973.6 924.1,982.3 C927.9,991.0 930.6,998.5 933.9,1008.3 C937.1,1018.1 940.4,1033.5 943.6,1040.9 C946.9,1048.2 950.2,1049.3 953.4,1052.2 C956.7,1055.2 958.8,1056.0 963.2,1058.8 C967.5,1061.5 974.0,1066.7 979.5,1068.5 C984.9,1070.3 990.8,1069.5 995.7,1069.5 C1000.6,1069.6 1004.4,1069.0 1008.8,1068.8 C1013.1,1068.7 1019.6,1068.6 1021.8,1068.5" stroke="#c046bc" stroke-width="5.2" fill="none" stroke-linecap="butt" stroke-linejoin="round" stroke-dasharray="12.5 8.5"/>
<line x1="619.8" y1="673" x2="619.8" y2="1078.3" stroke="#c3c4c4" stroke-width="4.3" stroke-linecap="butt"/>
<line x1="672.8" y1="673" x2="672.8" y2="1078.3" stroke="#c3c4c4" stroke-width="4.3" stroke-linecap="butt"/>
<line x1="729.8" y1="673" x2="729.8" y2="1078.3" stroke="#c3c4c4" stroke-width="4.3" stroke-linecap="butt"/>
<line x1="843.7" y1="678" x2="843.7" y2="1078.3" stroke="#c3c4c4" stroke-width="4.3" stroke-linecap="butt" stroke-dasharray="49 39"/>
<line x1="900.3" y1="673" x2="900.3" y2="1078.3" stroke="#c3c4c4" stroke-width="4.3" stroke-linecap="butt"/>
<line x1="929" y1="678" x2="929" y2="1078.3" stroke="#c3c4c4" stroke-width="4.3" stroke-linecap="butt" stroke-dasharray="49 39"/>
<line x1="957.3" y1="673" x2="957.3" y2="1078.3" stroke="#c3c4c4" stroke-width="4.3" stroke-linecap="butt"/>
<line x1="615.5" y1="671.4" x2="615.5" y2="1080.55" stroke="#141414" stroke-width="4.5" stroke-linecap="butt"/>
<line x1="613.25" y1="1078.3" x2="1023.4" y2="1078.3" stroke="#141414" stroke-width="4.5" stroke-linecap="butt"/>
<text x="644.6" y="1114.5" font-size="32.5" text-anchor="end" fill="#141414" font-weight="normal" font-style="normal" font-family="'Liberation Sans', Arial, Helvetica, sans-serif" transform="rotate(-30 644.6 1114.5)">sample</text>
<text x="707.6" y="1114.5" font-size="32.5" text-anchor="end" fill="#141414" font-weight="normal" font-style="normal" font-family="'Liberation Sans', Arial, Helvetica, sans-serif" transform="rotate(-30 707.6 1114.5)">delay</text>
<text x="780.1" y="1114.5" font-size="32.5" text-anchor="end" fill="#141414" font-weight="normal" font-style="normal" font-family="'Liberation Sans', Arial, Helvetica, sans-serif" transform="rotate(-30 780.1 1114.5)">test</text>
<text x="944.8" y="1114.5" font-size="32.5" text-anchor="end" fill="#141414" font-weight="normal" font-style="normal" font-family="'Liberation Sans', Arial, Helvetica, sans-serif" transform="rotate(-30 944.8 1114.5)">turn</text>
<text x="1006.1" y="1114.5" font-size="32.5" text-anchor="end" fill="#141414" font-weight="normal" font-style="normal" font-family="'Liberation Sans', Arial, Helvetica, sans-serif" transform="rotate(-30 1006.1 1114.5)">reward</text>
<text x="600.3" y="887.5" font-size="32" text-anchor="middle" fill="#141414" font-weight="normal" font-style="normal" font-family="'Liberation Sans', Arial, Helvetica, sans-serif" transform="rotate(-90 600.3 887.5)" textLength="229" lengthAdjust="spacing">forward velocity</text>
<line x1="1121" y1="798.8" x2="1528.5" y2="798.8" stroke="#141414" stroke-width="3" stroke-linecap="butt"/>
<path d="M1126.6,945.1 C1127.1,928.6 1128.4,877.9 1129.7,845.9 C1131.0,813.9 1132.6,775.2 1134.4,753.0 C1136.2,730.8 1138.2,722.5 1140.6,712.7 C1142.9,702.9 1145.2,695.1 1148.3,694.1 C1151.4,693.1 1155.3,700.3 1159.2,706.5 C1163.0,712.7 1167.9,722.0 1171.6,731.3 C1175.2,740.6 1177.8,753.0 1180.9,762.3 C1184.0,771.6 1187.1,780.9 1190.2,787.0 C1193.2,793.2 1196.4,794.3 1199.5,799.5 C1202.5,804.6 1205.6,811.8 1208.7,818.0 C1211.8,824.2 1214.9,830.4 1218.0,836.6 C1221.1,842.8 1224.5,847.5 1227.3,855.2 C1230.2,863.0 1232.5,870.2 1235.1,883.1 C1237.7,896.0 1240.5,915.7 1242.8,932.7 C1245.2,949.7 1247.0,968.9 1249.0,985.4 C1251.1,1001.9 1253.2,1027.7 1255.2,1031.9 C1257.3,1036.0 1259.4,1025.7 1261.4,1010.2 C1263.5,994.7 1265.6,963.7 1267.6,938.9 C1269.7,914.1 1271.8,882.6 1273.8,861.4 C1275.9,840.3 1277.7,822.2 1280.0,811.8 C1282.3,801.5 1285.2,800.0 1287.8,799.5 C1290.4,798.9 1292.2,807.7 1295.5,808.7 C1298.9,809.8 1304.3,806.7 1307.9,805.6 C1311.5,804.6 1313.6,803.6 1317.2,802.5 C1320.8,801.5 1326.0,801.0 1329.6,799.5 C1333.2,797.9 1335.8,792.7 1338.9,793.2 C1342.0,793.8 1345.1,801.5 1348.2,802.5 C1351.3,803.6 1354.4,797.4 1357.5,799.5 C1360.6,801.5 1363.7,806.2 1366.8,814.9 C1369.9,823.7 1373.0,840.8 1376.1,852.1 C1379.2,863.5 1382.3,874.3 1385.4,883.1 C1388.5,891.9 1391.6,899.1 1394.7,904.8 C1397.8,910.5 1400.9,915.7 1404.0,917.2 C1407.1,918.8 1410.2,917.7 1413.3,914.1 C1416.4,910.5 1419.5,902.7 1422.6,895.5 C1425.7,888.3 1428.2,881.0 1431.9,870.7 C1435.5,860.4 1440.1,841.8 1444.3,833.5 C1448.4,825.3 1452.5,822.7 1456.7,821.1 C1460.8,819.6 1464.9,825.3 1469.0,824.2 C1473.2,823.2 1477.3,818.6 1481.4,814.9 C1485.6,811.3 1490.2,806.7 1493.8,802.5 C1497.5,798.4 1500.0,791.7 1503.1,790.1 C1506.2,788.6 1508.8,792.2 1512.4,793.2 C1516.0,794.3 1522.8,795.8 1524.8,796.4" stroke="#c8f3f5" stroke-width="14" fill="none" stroke-linecap="round" stroke-linejoin="round" opacity="0.75"/>
<path d="M1126.6,938.9 C1127.1,922.4 1128.4,871.8 1129.7,839.7 C1131.0,807.7 1132.6,769.0 1134.4,746.8 C1136.2,724.6 1138.2,715.8 1140.6,706.5 C1142.9,697.2 1145.2,691.0 1148.3,691.0 C1151.4,691.0 1155.3,699.8 1159.2,706.5 C1163.0,713.2 1167.9,722.0 1171.6,731.3 C1175.2,740.6 1177.8,753.0 1180.9,762.3 C1184.0,771.6 1187.1,781.4 1190.2,787.0 C1193.2,792.7 1196.4,791.7 1199.5,796.4 C1202.5,801.0 1205.6,808.7 1208.7,814.9 C1211.8,821.1 1214.9,827.3 1218.0,833.5 C1221.1,839.7 1224.5,843.9 1227.3,852.1 C1230.2,860.4 1232.5,869.7 1235.1,883.1 C1237.7,896.5 1240.5,918.2 1242.8,932.7 C1245.2,947.2 1247.0,959.6 1249.0,969.9 C1251.1,980.2 1253.2,994.7 1255.2,994.7 C1257.3,994.7 1259.4,984.4 1261.4,969.9 C1263.5,955.4 1265.6,931.2 1267.6,907.9 C1269.7,884.7 1272.3,851.1 1273.8,830.4 C1275.4,809.8 1275.6,793.7 1276.9,784.0 C1278.2,774.2 1278.2,772.5 1281.6,771.9 C1284.9,771.2 1292.7,776.9 1297.1,779.9 C1301.5,783.0 1304.3,788.1 1307.9,790.1 C1311.5,792.2 1315.1,794.0 1318.8,792.0 C1322.4,790.0 1325.2,783.1 1329.6,778.1 C1334.0,773.1 1340.0,766.3 1345.1,762.0 C1350.2,757.6 1356.5,753.2 1360.0,752.0 C1363.4,750.9 1364.0,750.0 1365.9,755.1 C1367.7,760.3 1368.9,773.1 1371.1,783.0 C1373.3,793.0 1376.3,801.9 1379.2,814.9 C1382.1,828.0 1384.9,848.0 1388.5,861.4 C1392.1,874.9 1396.7,888.8 1400.9,895.5 C1405.0,902.2 1409.1,902.7 1413.3,901.7 C1417.4,900.7 1421.5,896.6 1425.7,889.3 C1429.8,882.1 1433.9,868.7 1438.1,858.3 C1442.2,848.0 1446.3,833.5 1450.5,827.3 C1454.6,821.1 1459.2,822.2 1462.8,821.1 C1466.5,820.1 1469.1,822.2 1472.2,821.1 C1475.2,820.1 1477.8,818.0 1481.4,814.9 C1485.1,811.8 1490.2,806.7 1493.8,802.5 C1497.5,798.4 1500.0,791.7 1503.1,790.1 C1506.2,788.6 1508.8,792.2 1512.4,793.2 C1516.0,794.3 1522.8,795.8 1524.8,796.4" stroke="#c8f3f5" stroke-width="19" fill="none" stroke-linecap="round" stroke-linejoin="round" opacity="0.75"/>
<path d="M1126.6,951.3 C1127.1,933.7 1128.4,879.0 1129.7,845.9 C1131.0,812.9 1132.6,775.2 1134.4,753.0 C1136.2,730.8 1138.2,722.5 1140.6,712.7 C1142.9,702.9 1145.2,695.1 1148.3,694.1 C1151.4,693.1 1155.3,700.3 1159.2,706.5 C1163.0,712.7 1167.9,722.0 1171.6,731.3 C1175.2,740.6 1177.8,753.5 1180.9,762.3 C1184.0,771.0 1187.1,778.8 1190.2,784.0 C1193.2,789.1 1196.4,788.6 1199.5,793.2 C1202.5,797.9 1205.6,805.6 1208.7,811.8 C1211.8,818.0 1214.9,824.2 1218.0,830.4 C1221.1,836.6 1224.5,841.3 1227.3,849.0 C1230.2,856.8 1232.5,863.0 1235.1,876.9 C1237.7,890.9 1240.5,914.6 1242.8,932.7 C1245.2,950.8 1247.0,966.8 1249.0,985.4 C1251.1,1004.0 1253.2,1039.1 1255.2,1044.3 C1257.3,1049.4 1259.4,1033.9 1261.4,1016.4 C1263.5,998.8 1265.6,964.7 1267.6,938.9 C1269.7,913.1 1271.8,882.6 1273.8,861.4 C1275.9,840.3 1277.7,822.2 1280.0,811.8 C1282.3,801.5 1285.2,797.4 1287.8,799.5 C1290.4,801.5 1293.2,816.5 1295.5,824.2 C1297.8,832.0 1299.6,842.8 1301.7,845.9 C1303.8,849.0 1305.3,847.5 1307.9,842.8 C1310.5,838.2 1313.6,826.8 1317.2,818.0 C1320.8,809.3 1326.0,797.9 1329.6,790.1 C1333.2,782.4 1335.8,776.7 1338.9,771.6 C1342.0,766.4 1345.4,759.7 1348.2,759.2 C1351.0,758.6 1353.4,760.2 1355.9,768.5 C1358.5,776.7 1360.9,795.8 1363.7,808.7 C1366.5,821.7 1369.9,834.6 1373.0,845.9 C1376.1,857.3 1379.2,867.1 1382.3,876.9 C1385.4,886.7 1388.5,897.1 1391.6,904.8 C1394.7,912.6 1397.8,919.3 1400.9,923.4 C1404.0,927.5 1407.1,931.1 1410.2,929.6 C1413.3,928.1 1416.4,921.9 1419.5,914.1 C1422.6,906.4 1425.7,893.5 1428.8,883.1 C1431.9,872.8 1434.4,861.4 1438.1,852.1 C1441.7,842.8 1446.3,832.0 1450.5,827.3 C1454.6,822.7 1459.2,822.7 1462.8,824.2 C1466.5,825.8 1469.1,835.1 1472.2,836.6 C1475.2,838.2 1477.8,838.2 1481.4,833.5 C1485.1,828.9 1490.2,817.0 1493.8,808.7 C1497.5,800.5 1500.0,787.0 1503.1,784.0 C1506.2,780.9 1508.8,787.6 1512.4,790.1 C1516.0,792.7 1522.8,797.9 1524.8,799.5" stroke="#eea6ee" stroke-width="14" fill="none" stroke-linecap="round" stroke-linejoin="round" opacity="0.75"/>
<path d="M1126.6,938.9 C1127.1,923.4 1128.4,876.9 1129.7,845.9 C1131.0,814.9 1132.6,775.2 1134.4,753.0 C1136.2,730.8 1138.2,722.0 1140.6,712.7 C1142.9,703.4 1145.2,698.2 1148.3,697.2 C1151.4,696.2 1155.3,700.8 1159.2,706.5 C1163.0,712.2 1167.9,722.0 1171.6,731.3 C1175.2,740.6 1177.8,753.5 1180.9,762.3 C1184.0,771.0 1187.1,778.8 1190.2,784.0 C1193.2,789.1 1196.4,788.6 1199.5,793.2 C1202.5,797.9 1205.6,805.6 1208.7,811.8 C1211.8,818.0 1214.9,824.2 1218.0,830.4 C1221.1,836.6 1224.5,841.3 1227.3,849.0 C1230.2,856.8 1232.5,863.5 1235.1,876.9 C1237.7,890.3 1240.5,914.1 1242.8,929.6 C1245.2,945.1 1247.0,960.6 1249.0,969.9 C1251.1,979.2 1253.2,986.4 1255.2,985.4 C1257.3,984.3 1259.4,976.6 1261.4,963.7 C1263.5,950.8 1265.6,927.5 1267.6,907.9 C1269.7,888.3 1271.8,863.0 1273.8,845.9 C1275.9,828.9 1278.0,814.1 1280.0,805.6 C1282.0,797.2 1283.3,795.9 1285.9,795.1 C1288.5,794.3 1292.0,798.8 1295.5,801.0 C1299.0,803.2 1301.8,806.0 1307.0,808.4 C1312.1,810.9 1321.4,813.2 1326.5,815.9 C1331.6,818.5 1334.0,821.5 1337.3,824.2 C1340.7,827.0 1343.5,832.1 1346.3,832.6 C1349.2,833.1 1351.8,830.3 1354.4,827.3 C1357.0,824.4 1358.5,812.4 1362.1,814.9 C1365.8,817.5 1371.7,833.5 1376.1,842.8 C1380.5,852.1 1384.3,863.5 1388.5,870.7 C1392.6,878.0 1396.7,883.1 1400.9,886.2 C1405.0,889.3 1409.1,889.8 1413.3,889.3 C1417.4,888.8 1421.5,887.8 1425.7,883.1 C1429.8,878.5 1433.9,869.7 1438.1,861.4 C1442.2,853.2 1446.3,839.7 1450.5,833.5 C1454.6,827.3 1459.2,826.3 1462.8,824.2 C1466.5,822.2 1469.1,822.7 1472.2,821.1 C1475.2,819.6 1477.8,818.0 1481.4,814.9 C1485.1,811.8 1490.2,806.7 1493.8,802.5 C1497.5,798.4 1500.0,791.7 1503.1,790.1 C1506.2,788.6 1508.8,792.2 1512.4,793.2 C1516.0,794.3 1522.8,795.8 1524.8,796.4" stroke="#eea6ee" stroke-width="16" fill="none" stroke-linecap="round" stroke-linejoin="round" opacity="0.75"/>
<path d="M1126.6,945.1 C1127.1,928.6 1128.4,877.9 1129.7,845.9 C1131.0,813.9 1132.6,775.2 1134.4,753.0 C1136.2,730.8 1138.2,722.5 1140.6,712.7 C1142.9,702.9 1145.2,695.1 1148.3,694.1 C1151.4,693.1 1155.3,700.3 1159.2,706.5 C1163.0,712.7 1167.9,722.0 1171.6,731.3 C1175.2,740.6 1177.8,753.0 1180.9,762.3 C1184.0,771.6 1187.1,780.9 1190.2,787.0 C1193.2,793.2 1196.4,794.3 1199.5,799.5 C1202.5,804.6 1205.6,811.8 1208.7,818.0 C1211.8,824.2 1214.9,830.4 1218.0,836.6 C1221.1,842.8 1224.5,847.5 1227.3,855.2 C1230.2,863.0 1232.5,870.2 1235.1,883.1 C1237.7,896.0 1240.5,915.7 1242.8,932.7 C1245.2,949.7 1247.0,968.9 1249.0,985.4 C1251.1,1001.9 1253.2,1027.7 1255.2,1031.9 C1257.3,1036.0 1259.4,1025.7 1261.4,1010.2 C1263.5,994.7 1265.6,963.7 1267.6,938.9 C1269.7,914.1 1271.8,882.6 1273.8,861.4 C1275.9,840.3 1277.7,822.2 1280.0,811.8 C1282.3,801.5 1285.2,800.0 1287.8,799.5 C1290.4,798.9 1292.2,807.7 1295.5,808.7 C1298.9,809.8 1304.3,806.7 1307.9,805.6 C1311.5,804.6 1313.6,803.6 1317.2,802.5 C1320.8,801.5 1326.0,801.0 1329.6,799.5 C1333.2,797.9 1335.8,792.7 1338.9,793.2 C1342.0,793.8 1345.1,801.5 1348.2,802.5 C1351.3,803.6 1354.4,797.4 1357.5,799.5 C1360.6,801.5 1363.7,806.2 1366.8,814.9 C1369.9,823.7 1373.0,840.8 1376.1,852.1 C1379.2,863.5 1382.3,874.3 1385.4,883.1 C1388.5,891.9 1391.6,899.1 1394.7,904.8 C1397.8,910.5 1400.9,915.7 1404.0,917.2 C1407.1,918.8 1410.2,917.7 1413.3,914.1 C1416.4,910.5 1419.5,902.7 1422.6,895.5 C1425.7,888.3 1428.2,881.0 1431.9,870.7 C1435.5,860.4 1440.1,841.8 1444.3,833.5 C1448.4,825.3 1452.5,822.7 1456.7,821.1 C1460.8,819.6 1464.9,825.3 1469.0,824.2 C1473.2,823.2 1477.3,818.6 1481.4,814.9 C1485.6,811.3 1490.2,806.7 1493.8,802.5 C1497.5,798.4 1500.0,791.7 1503.1,790.1 C1506.2,788.6 1508.8,792.2 1512.4,793.2 C1516.0,794.3 1522.8,795.8 1524.8,796.4" stroke="#98e0e3" stroke-width="4.8" fill="none" stroke-linecap="round" stroke-linejoin="round"/>
<path d="M1126.6,938.9 C1127.1,922.4 1128.4,871.8 1129.7,839.7 C1131.0,807.7 1132.6,769.0 1134.4,746.8 C1136.2,724.6 1138.2,715.8 1140.6,706.5 C1142.9,697.2 1145.2,691.0 1148.3,691.0 C1151.4,691.0 1155.3,699.8 1159.2,706.5 C1163.0,713.2 1167.9,722.0 1171.6,731.3 C1175.2,740.6 1177.8,753.0 1180.9,762.3 C1184.0,771.6 1187.1,781.4 1190.2,787.0 C1193.2,792.7 1196.4,791.7 1199.5,796.4 C1202.5,801.0 1205.6,808.7 1208.7,814.9 C1211.8,821.1 1214.9,827.3 1218.0,833.5 C1221.1,839.7 1224.5,843.9 1227.3,852.1 C1230.2,860.4 1232.5,869.7 1235.1,883.1 C1237.7,896.5 1240.5,918.2 1242.8,932.7 C1245.2,947.2 1247.0,959.6 1249.0,969.9 C1251.1,980.2 1253.2,994.7 1255.2,994.7 C1257.3,994.7 1259.4,984.4 1261.4,969.9 C1263.5,955.4 1265.6,931.2 1267.6,907.9 C1269.7,884.7 1272.3,851.1 1273.8,830.4 C1275.4,809.8 1275.6,793.7 1276.9,784.0 C1278.2,774.2 1278.2,772.5 1281.6,771.9 C1284.9,771.2 1292.7,776.9 1297.1,779.9 C1301.5,783.0 1304.3,788.1 1307.9,790.1 C1311.5,792.2 1315.1,794.0 1318.8,792.0 C1322.4,790.0 1325.2,783.1 1329.6,778.1 C1334.0,773.1 1340.0,766.3 1345.1,762.0 C1350.2,757.6 1356.5,753.2 1360.0,752.0 C1363.4,750.9 1364.0,750.0 1365.9,755.1 C1367.7,760.3 1368.9,773.1 1371.1,783.0 C1373.3,793.0 1376.3,801.9 1379.2,814.9 C1382.1,828.0 1384.9,848.0 1388.5,861.4 C1392.1,874.9 1396.7,888.8 1400.9,895.5 C1405.0,902.2 1409.1,902.7 1413.3,901.7 C1417.4,900.7 1421.5,896.6 1425.7,889.3 C1429.8,882.1 1433.9,868.7 1438.1,858.3 C1442.2,848.0 1446.3,833.5 1450.5,827.3 C1454.6,821.1 1459.2,822.2 1462.8,821.1 C1466.5,820.1 1469.1,822.2 1472.2,821.1 C1475.2,820.1 1477.8,818.0 1481.4,814.9 C1485.1,811.8 1490.2,806.7 1493.8,802.5 C1497.5,798.4 1500.0,791.7 1503.1,790.1 C1506.2,788.6 1508.8,792.2 1512.4,793.2 C1516.0,794.3 1522.8,795.8 1524.8,796.4" stroke="#98e0e3" stroke-width="4.8" fill="none" stroke-linecap="butt" stroke-linejoin="round" stroke-dasharray="12.5 8.5"/>
<path d="M1126.6,951.3 C1127.1,933.7 1128.4,879.0 1129.7,845.9 C1131.0,812.9 1132.6,775.2 1134.4,753.0 C1136.2,730.8 1138.2,722.5 1140.6,712.7 C1142.9,702.9 1145.2,695.1 1148.3,694.1 C1151.4,693.1 1155.3,700.3 1159.2,706.5 C1163.0,712.7 1167.9,722.0 1171.6,731.3 C1175.2,740.6 1177.8,753.5 1180.9,762.3 C1184.0,771.0 1187.1,778.8 1190.2,784.0 C1193.2,789.1 1196.4,788.6 1199.5,793.2 C1202.5,797.9 1205.6,805.6 1208.7,811.8 C1211.8,818.0 1214.9,824.2 1218.0,830.4 C1221.1,836.6 1224.5,841.3 1227.3,849.0 C1230.2,856.8 1232.5,863.0 1235.1,876.9 C1237.7,890.9 1240.5,914.6 1242.8,932.7 C1245.2,950.8 1247.0,966.8 1249.0,985.4 C1251.1,1004.0 1253.2,1039.1 1255.2,1044.3 C1257.3,1049.4 1259.4,1033.9 1261.4,1016.4 C1263.5,998.8 1265.6,964.7 1267.6,938.9 C1269.7,913.1 1271.8,882.6 1273.8,861.4 C1275.9,840.3 1277.7,822.2 1280.0,811.8 C1282.3,801.5 1285.2,797.4 1287.8,799.5 C1290.4,801.5 1293.2,816.5 1295.5,824.2 C1297.8,832.0 1299.6,842.8 1301.7,845.9 C1303.8,849.0 1305.3,847.5 1307.9,842.8 C1310.5,838.2 1313.6,826.8 1317.2,818.0 C1320.8,809.3 1326.0,797.9 1329.6,790.1 C1333.2,782.4 1335.8,776.7 1338.9,771.6 C1342.0,766.4 1345.4,759.7 1348.2,759.2 C1351.0,758.6 1353.4,760.2 1355.9,768.5 C1358.5,776.7 1360.9,795.8 1363.7,808.7 C1366.5,821.7 1369.9,834.6 1373.0,845.9 C1376.1,857.3 1379.2,867.1 1382.3,876.9 C1385.4,886.7 1388.5,897.1 1391.6,904.8 C1394.7,912.6 1397.8,919.3 1400.9,923.4 C1404.0,927.5 1407.1,931.1 1410.2,929.6 C1413.3,928.1 1416.4,921.9 1419.5,914.1 C1422.6,906.4 1425.7,893.5 1428.8,883.1 C1431.9,872.8 1434.4,861.4 1438.1,852.1 C1441.7,842.8 1446.3,832.0 1450.5,827.3 C1454.6,822.7 1459.2,822.7 1462.8,824.2 C1466.5,825.8 1469.1,835.1 1472.2,836.6 C1475.2,838.2 1477.8,838.2 1481.4,833.5 C1485.1,828.9 1490.2,817.0 1493.8,808.7 C1497.5,800.5 1500.0,787.0 1503.1,784.0 C1506.2,780.9 1508.8,787.6 1512.4,790.1 C1516.0,792.7 1522.8,797.9 1524.8,799.5" stroke="#c046bc" stroke-width="5.2" fill="none" stroke-linecap="round" stroke-linejoin="round"/>
<path d="M1126.6,938.9 C1127.1,923.4 1128.4,876.9 1129.7,845.9 C1131.0,814.9 1132.6,775.2 1134.4,753.0 C1136.2,730.8 1138.2,722.0 1140.6,712.7 C1142.9,703.4 1145.2,698.2 1148.3,697.2 C1151.4,696.2 1155.3,700.8 1159.2,706.5 C1163.0,712.2 1167.9,722.0 1171.6,731.3 C1175.2,740.6 1177.8,753.5 1180.9,762.3 C1184.0,771.0 1187.1,778.8 1190.2,784.0 C1193.2,789.1 1196.4,788.6 1199.5,793.2 C1202.5,797.9 1205.6,805.6 1208.7,811.8 C1211.8,818.0 1214.9,824.2 1218.0,830.4 C1221.1,836.6 1224.5,841.3 1227.3,849.0 C1230.2,856.8 1232.5,863.5 1235.1,876.9 C1237.7,890.3 1240.5,914.1 1242.8,929.6 C1245.2,945.1 1247.0,960.6 1249.0,969.9 C1251.1,979.2 1253.2,986.4 1255.2,985.4 C1257.3,984.3 1259.4,976.6 1261.4,963.7 C1263.5,950.8 1265.6,927.5 1267.6,907.9 C1269.7,888.3 1271.8,863.0 1273.8,845.9 C1275.9,828.9 1278.0,814.1 1280.0,805.6 C1282.0,797.2 1283.3,795.9 1285.9,795.1 C1288.5,794.3 1292.0,798.8 1295.5,801.0 C1299.0,803.2 1301.8,806.0 1307.0,808.4 C1312.1,810.9 1321.4,813.2 1326.5,815.9 C1331.6,818.5 1334.0,821.5 1337.3,824.2 C1340.7,827.0 1343.5,832.1 1346.3,832.6 C1349.2,833.1 1351.8,830.3 1354.4,827.3 C1357.0,824.4 1358.5,812.4 1362.1,814.9 C1365.8,817.5 1371.7,833.5 1376.1,842.8 C1380.5,852.1 1384.3,863.5 1388.5,870.7 C1392.6,878.0 1396.7,883.1 1400.9,886.2 C1405.0,889.3 1409.1,889.8 1413.3,889.3 C1417.4,888.8 1421.5,887.8 1425.7,883.1 C1429.8,878.5 1433.9,869.7 1438.1,861.4 C1442.2,853.2 1446.3,839.7 1450.5,833.5 C1454.6,827.3 1459.2,826.3 1462.8,824.2 C1466.5,822.2 1469.1,822.7 1472.2,821.1 C1475.2,819.6 1477.8,818.0 1481.4,814.9 C1485.1,811.8 1490.2,806.7 1493.8,802.5 C1497.5,798.4 1500.0,791.7 1503.1,790.1 C1506.2,788.6 1508.8,792.2 1512.4,793.2 C1516.0,794.3 1522.8,795.8 1524.8,796.4" stroke="#c046bc" stroke-width="5.2" fill="none" stroke-linecap="butt" stroke-linejoin="round" stroke-dasharray="12.5 8.5"/>
<line x1="1126.6" y1="674" x2="1126.6" y2="1078.3" stroke="#c3c4c4" stroke-width="4.3" stroke-linecap="butt"/>
<line x1="1179.3" y1="674" x2="1179.3" y2="1078.3" stroke="#c3c4c4" stroke-width="4.3" stroke-linecap="butt"/>
<line x1="1236" y1="674" x2="1236" y2="1078.3" stroke="#c3c4c4" stroke-width="4.3" stroke-linecap="butt"/>
<line x1="1349.1" y1="675.5" x2="1349.1" y2="1078.3" stroke="#c3c4c4" stroke-width="4.3" stroke-linecap="butt" stroke-dasharray="45 39"/>
<line x1="1406.4" y1="674" x2="1406.4" y2="1078.3" stroke="#c3c4c4" stroke-width="4.3" stroke-linecap="butt"/>
<line x1="1434.3" y1="675.5" x2="1434.3" y2="1078.3" stroke="#c3c4c4" stroke-width="4.3" stroke-linecap="butt" stroke-dasharray="45 39"/>
<line x1="1462.8" y1="674" x2="1462.8" y2="1078.3" stroke="#c3c4c4" stroke-width="4.3" stroke-linecap="butt"/>
<line x1="1121" y1="671.8" x2="1121" y2="1080.55" stroke="#141414" stroke-width="4.5" stroke-linecap="butt"/>
<line x1="1118.75" y1="1078.3" x2="1528.5" y2="1078.3" stroke="#141414" stroke-width="4.5" stroke-linecap="butt"/>
<text x="1161.6" y="1114.1" font-size="32.5" text-anchor="end" fill="#141414" font-weight="normal" font-style="normal" font-family="'Liberation Sans', Arial, Helvetica, sans-serif" transform="rotate(-30 1161.6 1114.1)">sample</text>
<text x="1225.2" y="1114.1" font-size="32.5" text-anchor="end" fill="#141414" font-weight="normal" font-style="normal" font-family="'Liberation Sans', Arial, Helvetica, sans-serif" transform="rotate(-30 1225.2 1114.1)">delay</text>
<text x="1297.3" y="1114.1" font-size="32.5" text-anchor="end" fill="#141414" font-weight="normal" font-style="normal" font-family="'Liberation Sans', Arial, Helvetica, sans-serif" transform="rotate(-30 1297.3 1114.1)">test</text>
<text x="1468.2" y="1114.1" font-size="32.5" text-anchor="end" fill="#141414" font-weight="normal" font-style="normal" font-family="'Liberation Sans', Arial, Helvetica, sans-serif" transform="rotate(-30 1468.2 1114.1)">turn</text>
<text x="1529.4" y="1114.1" font-size="32.5" text-anchor="end" fill="#141414" font-weight="normal" font-style="normal" font-family="'Liberation Sans', Arial, Helvetica, sans-serif" transform="rotate(-30 1529.4 1114.1)">reward</text>
<text x="1098.2" y="890.9" font-size="32" text-anchor="middle" fill="#141414" font-weight="normal" font-style="normal" font-family="'Liberation Sans', Arial, Helvetica, sans-serif" transform="rotate(-90 1098.2 890.9)" textLength="292" lengthAdjust="spacing">forward acceleration</text>
<path d="M107.2,1597.8 C108.7,1596.1 112.2,1592.0 116.0,1587.3 C119.8,1582.6 124.8,1577.3 130.1,1569.7 C135.4,1562.1 141.8,1550.9 147.7,1541.6 C153.5,1532.2 159.4,1521.6 165.2,1513.4 C171.1,1505.2 177.5,1498.8 182.8,1492.3 C188.1,1485.9 192.2,1480.6 196.9,1474.8 C201.6,1468.9 206.3,1463.3 210.9,1457.2 C215.6,1451.0 220.3,1443.7 225.0,1437.9 C229.7,1432.0 234.4,1426.7 239.1,1422.0 C243.8,1417.3 248.4,1413.8 253.1,1409.7 C257.8,1405.6 262.5,1401.2 267.2,1397.4 C271.9,1393.6 276.6,1390.1 281.2,1386.9 C285.9,1383.7 290.6,1381.3 295.3,1378.1 C300.0,1374.9 304.7,1371.1 309.4,1367.5 C314.1,1364.0 318.8,1360.8 323.4,1357.0 C328.1,1353.2 332.8,1348.5 337.5,1344.7 C342.2,1340.9 346.9,1337.7 351.6,1334.1 C356.3,1330.6 360.9,1326.8 365.6,1323.6 C370.3,1320.4 375.0,1317.7 379.7,1314.8 C384.4,1311.9 389.1,1309.0 393.8,1306.0 C398.4,1303.1 403.1,1299.5 407.8,1297.2 C412.5,1295.0 417.8,1293.7 421.9,1292.7 C426.0,1291.6 430.7,1291.2 432.4,1290.9" stroke="#111111" stroke-width="4.2" fill="none" stroke-linecap="round" stroke-linejoin="round"/>
<path d="M107.2,1541.6 C108.7,1539.2 112.8,1532.8 116.0,1527.5 C119.2,1522.2 123.0,1515.2 126.6,1509.9 C130.1,1504.7 133.6,1502.3 137.1,1495.9 C140.6,1489.4 144.1,1478.3 147.7,1471.2 C151.2,1464.2 154.1,1459.5 158.2,1453.7 C162.3,1447.8 167.0,1441.4 172.3,1436.1 C177.5,1430.8 184.6,1425.5 189.8,1422.0 C195.1,1418.5 199.2,1417.6 203.9,1415.0 C208.6,1412.4 213.3,1409.1 218.0,1406.2 C222.7,1403.3 226.8,1401.5 232.0,1397.4 C237.3,1393.3 243.8,1387.5 249.6,1381.6 C255.5,1375.7 261.3,1368.4 267.2,1362.3 C273.1,1356.1 278.9,1349.7 284.8,1344.7 C290.6,1339.7 296.5,1335.9 302.4,1332.4 C308.2,1328.9 314.1,1326.2 319.9,1323.6 C325.8,1321.0 331.7,1318.9 337.5,1316.6 C343.4,1314.2 349.2,1311.9 355.1,1309.5 C360.9,1307.2 367.4,1305.1 372.7,1302.5 C377.9,1299.9 382.6,1295.6 386.7,1293.7 C390.8,1291.8 395.5,1291.4 397.3,1290.9" stroke="#e0392a" stroke-width="4.2" fill="none" stroke-linecap="round" stroke-linejoin="round"/>
<path d="M107.2,1552.1 C108.7,1549.2 112.2,1541.0 116.0,1534.5 C119.8,1528.1 125.4,1521.1 130.1,1513.4 C134.8,1505.8 140.0,1497.0 144.1,1488.8 C148.2,1480.6 150.6,1471.3 154.7,1464.2 C158.8,1457.2 164.1,1453.1 168.8,1446.6 C173.4,1440.2 178.1,1433.2 182.8,1425.5 C187.5,1417.9 192.2,1407.4 196.9,1400.9 C201.6,1394.5 205.7,1391.3 210.9,1386.9 C216.2,1382.5 222.7,1378.7 228.5,1374.6 C234.4,1370.5 239.7,1366.4 246.1,1362.3 C252.5,1358.2 260.2,1354.1 267.2,1350.0 C274.2,1345.9 281.3,1340.9 288.3,1337.7 C295.3,1334.4 302.4,1333.6 309.4,1330.6 C316.4,1327.7 323.4,1323.6 330.5,1320.1 C337.5,1316.6 344.5,1313.0 351.6,1309.5 C358.6,1306.0 366.2,1301.9 372.7,1299.0 C379.1,1296.1 387.3,1293.1 390.2,1292.0" stroke="#35b86b" stroke-width="4.2" fill="none" stroke-linecap="round" stroke-linejoin="round"/>
<path d="M107.2,1576.7 C108.7,1573.2 112.2,1562.1 116.0,1555.6 C119.8,1549.2 126.0,1543.3 130.1,1538.0 C134.2,1532.8 137.1,1529.3 140.6,1524.0 C144.1,1518.7 147.7,1513.4 151.2,1506.4 C154.7,1499.4 157.6,1490.6 161.7,1481.8 C165.8,1473.0 171.1,1463.1 175.8,1453.7 C180.5,1444.3 185.2,1433.8 189.8,1425.5 C194.5,1417.3 199.2,1411.5 203.9,1404.5 C208.6,1397.4 213.3,1389.2 218.0,1383.4 C222.7,1377.5 227.3,1374.0 232.0,1369.3 C236.7,1364.6 240.2,1359.3 246.1,1355.2 C252.0,1351.1 259.6,1348.8 267.2,1344.7 C274.8,1340.6 283.6,1335.0 291.8,1330.6 C300.0,1326.2 308.8,1321.8 316.4,1318.3 C324.0,1314.8 331.6,1312.2 337.5,1309.5 C343.4,1306.9 346.3,1304.8 351.6,1302.5 C356.8,1300.2 364.5,1297.2 369.1,1295.5 C373.8,1293.7 377.9,1292.5 379.7,1292.0" stroke="#3a2fae" stroke-width="4.2" fill="none" stroke-linecap="round" stroke-linejoin="round"/>
<rect x="106.2" y="1290.2" width="403.6" height="383.2" fill="none" stroke="#141414" stroke-width="4.2"/>
<line x1="106.2" y1="1367.5" x2="117" y2="1367.5" stroke="#141414" stroke-width="4" stroke-linecap="butt"/>
<line x1="106.2" y1="1444" x2="117" y2="1444" stroke="#141414" stroke-width="4" stroke-linecap="butt"/>
<line x1="106.2" y1="1520.5" x2="117" y2="1520.5" stroke="#141414" stroke-width="4" stroke-linecap="butt"/>
<line x1="106.2" y1="1596.6" x2="117" y2="1596.6" stroke="#141414" stroke-width="4" stroke-linecap="butt"/>
<line x1="203.9" y1="1673.4" x2="203.9" y2="1668" stroke="#141414" stroke-width="4" stroke-linecap="butt"/>
<line x1="305.9" y1="1673.4" x2="305.9" y2="1668" stroke="#141414" stroke-width="4" stroke-linecap="butt"/>
<line x1="407.9" y1="1673.4" x2="407.9" y2="1668" stroke="#141414" stroke-width="4" stroke-linecap="butt"/>
<text x="93.5" y="1301.2" font-size="32" text-anchor="end" fill="#141414" font-weight="normal" font-style="normal" font-family="'Liberation Sans', Arial, Helvetica, sans-serif">1</text>
<text x="93.5" y="1378.5" font-size="32" text-anchor="end" fill="#141414" font-weight="normal" font-style="normal" font-family="'Liberation Sans', Arial, Helvetica, sans-serif">0.8</text>
<text x="93.5" y="1455" font-size="32" text-anchor="end" fill="#141414" font-weight="normal" font-style="normal" font-family="'Liberation Sans', Arial, Helvetica, sans-serif">0.6</text>
<text x="93.5" y="1531.5" font-size="32" text-anchor="end" fill="#141414" font-weight="normal" font-style="normal" font-family="'Liberation Sans', Arial, Helvetica, sans-serif">0.4</text>
<text x="93.5" y="1607.6" font-size="32" text-anchor="end" fill="#141414" font-weight="normal" font-style="normal" font-family="'Liberation Sans', Arial, Helvetica, sans-serif">0.2</text>
<text x="93.5" y="1684.4" font-size="32" text-anchor="end" fill="#141414" font-weight="normal" font-style="normal" font-family="'Liberation Sans', Arial, Helvetica, sans-serif">0</text>
<text x="106.5" y="1706.5" font-size="32" text-anchor="middle" fill="#141414" font-weight="normal" font-style="normal" font-family="'Liberation Sans', Arial, Helvetica, sans-serif">0</text>
<text x="204.3" y="1706.5" font-size="32" text-anchor="middle" fill="#141414" font-weight="normal" font-style="normal" font-family="'Liberation Sans', Arial, Helvetica, sans-serif">0.2</text>
<text x="305.9" y="1706.5" font-size="32" text-anchor="middle" fill="#141414" font-weight="normal" font-style="normal" font-family="'Liberation Sans', Arial, Helvetica, sans-serif">0.4</text>
<text x="407.9" y="1706.5" font-size="32" text-anchor="middle" fill="#141414" font-weight="normal" font-style="normal" font-family="'Liberation Sans', Arial, Helvetica, sans-serif">0.6</text>
<text x="510" y="1706.5" font-size="32" text-anchor="middle" fill="#141414" font-weight="normal" font-style="normal" font-family="'Liberation Sans', Arial, Helvetica, sans-serif">0.8</text>
<text x="309" y="1747.9" font-size="32" text-anchor="middle" fill="#141414" font-weight="normal" font-style="normal" font-family="'Liberation Sans', Arial, Helvetica, sans-serif" textLength="230" lengthAdjust="spacing">Fit quality (FDE)</text>
<text x="28.2" y="1491" font-size="32" text-anchor="middle" fill="#141414" font-weight="normal" font-style="normal" font-family="'Liberation Sans', Arial, Helvetica, sans-serif" transform="rotate(-90 28.2 1491)" textLength="289" lengthAdjust="spacing">Cumulative&#160; fraction</text>
<line x1="264.9" y1="1507.1" x2="324.1" y2="1507.1" stroke="#111111" stroke-width="4.2" stroke-linecap="butt"/>
<text x="333" y="1515.5" font-size="31.5" text-anchor="start" fill="#141414" font-weight="normal" font-style="normal" font-family="'Liberation Sans', Arial, Helvetica, sans-serif" textLength="163" lengthAdjust="spacing">non labeled</text>
<line x1="264.9" y1="1544" x2="324.1" y2="1544" stroke="#e0392a" stroke-width="4.2" stroke-linecap="butt"/>
<text x="333" y="1552.4" font-size="31.5" text-anchor="start" fill="#141414" font-weight="normal" font-style="normal" font-family="'Liberation Sans', Arial, Helvetica, sans-serif" textLength="142" lengthAdjust="spacing">cPPC proj</text>
<line x1="264.9" y1="1580.7" x2="324.1" y2="1580.7" stroke="#35b86b" stroke-width="4.2" stroke-linecap="butt"/>
<text x="333" y="1589.1" font-size="31.5" text-anchor="start" fill="#141414" font-weight="normal" font-style="normal" font-family="'Liberation Sans', Arial, Helvetica, sans-serif" textLength="127" lengthAdjust="spacing">RSC proj</text>
<line x1="264.9" y1="1616.8" x2="324.1" y2="1616.8" stroke="#3a2fae" stroke-width="4.2" stroke-linecap="butt"/>
<text x="333" y="1625.2" font-size="31.5" text-anchor="start" fill="#141414" font-weight="normal" font-style="normal" font-family="'Liberation Sans', Arial, Helvetica, sans-serif" textLength="127.7" lengthAdjust="spacing">ACC proj</text>
<path d="M643.1,1607.2 C643.6,1605.2 645.2,1598.9 646.4,1595.0 C647.6,1591.2 648.3,1587.6 650.2,1584.1 C652.1,1580.6 655.3,1576.2 657.9,1574.2 C660.4,1572.1 662.5,1572.0 665.5,1571.6 C668.5,1571.2 672.3,1572.2 675.7,1571.6 C679.1,1571.0 682.5,1569.9 685.9,1567.8 C689.3,1565.6 692.3,1562.5 696.1,1558.8 C700.0,1555.2 704.7,1549.3 708.9,1546.1 C713.2,1542.9 717.8,1541.1 721.7,1539.7 C725.5,1538.3 728.5,1537.9 731.9,1537.9 C735.3,1537.9 738.7,1539.0 742.1,1539.7 C745.5,1540.4 748.9,1541.4 752.3,1542.2 C755.7,1543.1 759.5,1543.4 762.5,1544.8 C765.5,1546.2 768.0,1548.1 770.2,1550.9 C772.3,1553.7 773.1,1556.6 775.3,1561.8 C777.4,1567.1 780.4,1575.9 782.9,1582.3 C785.5,1588.6 788.5,1596.4 790.6,1600.1 C792.7,1603.9 793.1,1604.1 795.7,1604.7 C798.2,1605.4 802.1,1604.5 805.9,1604.0 C809.7,1603.4 814.4,1602.5 818.7,1601.4 C822.9,1600.3 827.6,1597.8 831.4,1597.6 C835.2,1597.4 838.2,1598.8 841.6,1600.1 C845.0,1601.4 848.9,1603.4 851.8,1605.2 C854.8,1607.1 856.9,1609.7 859.5,1611.3 C862.1,1612.9 864.6,1613.1 867.2,1614.9 C869.7,1616.7 871.8,1619.4 874.8,1622.3 C877.8,1625.1 881.6,1628.5 885.0,1632.2 C888.4,1635.9 891.8,1640.9 895.2,1644.4 C898.6,1647.9 902.0,1650.8 905.4,1653.1 C908.8,1655.3 911.8,1656.9 915.6,1657.9 C919.5,1658.9 924.8,1658.7 928.4,1658.9 C932.0,1659.1 935.9,1658.9 937.4,1658.9 L937.4,1658.9 C935.9,1658.9 932.0,1658.7 928.4,1658.9 C924.8,1659.1 919.5,1660.2 915.6,1659.9 C911.8,1659.6 908.8,1658.6 905.4,1657.1 C902.0,1655.5 898.6,1652.9 895.2,1650.4 C891.8,1647.9 888.4,1644.9 885.0,1642.2 C881.6,1639.5 877.8,1636.5 874.8,1634.3 C871.8,1632.0 869.7,1630.0 867.2,1628.9 C864.6,1627.7 862.1,1628.3 859.5,1627.3 C856.9,1626.4 854.8,1624.8 851.8,1623.2 C848.9,1621.7 845.0,1619.4 841.6,1618.1 C838.2,1616.8 835.2,1615.4 831.4,1615.6 C827.6,1615.8 822.9,1618.3 818.7,1619.4 C814.4,1620.5 809.7,1621.4 805.9,1622.0 C802.1,1622.5 798.2,1623.4 795.7,1622.7 C793.1,1622.1 792.7,1621.9 790.6,1618.1 C788.5,1614.4 785.5,1606.6 782.9,1600.3 C780.4,1593.9 777.4,1584.4 775.3,1579.8 C773.1,1575.3 772.3,1574.7 770.2,1572.9 C768.0,1571.1 765.5,1569.9 762.5,1568.8 C759.5,1567.7 755.7,1567.1 752.3,1566.2 C748.9,1565.4 745.5,1564.4 742.1,1563.7 C738.7,1563.0 735.3,1561.9 731.9,1561.9 C728.5,1561.9 725.5,1562.3 721.7,1563.7 C717.8,1565.1 713.2,1566.9 708.9,1570.1 C704.7,1573.3 700.0,1579.2 696.1,1582.8 C692.3,1586.5 689.3,1589.6 685.9,1591.8 C682.5,1593.9 679.1,1595.0 675.7,1595.6 C672.3,1596.2 668.5,1595.2 665.5,1595.6 C662.5,1596.0 660.4,1596.4 657.9,1598.2 C655.3,1599.9 652.1,1603.6 650.2,1606.1 C648.3,1608.6 647.6,1610.5 646.4,1613.0 C645.2,1615.5 643.6,1619.9 643.1,1621.2 Z" stroke="none" stroke-width="1" fill="#c9a2f2" stroke-linecap="round" stroke-linejoin="round"/>
<path d="M642.5,1671.1 C646.4,1671.1 657.4,1670.8 665.5,1670.6 C673.6,1670.5 682.5,1670.3 691.0,1670.1 C699.6,1669.9 707.2,1669.8 716.6,1669.6 C725.9,1669.4 741.2,1670.2 747.2,1669.1 C753.2,1668.0 750.6,1666.8 752.3,1662.7 C754.0,1658.7 755.7,1652.5 757.4,1644.8 C759.1,1637.2 760.8,1626.6 762.5,1616.8 C764.2,1607.0 765.9,1595.8 767.6,1586.2 C769.3,1576.6 771.0,1566.4 772.7,1559.2 C774.4,1552.0 775.7,1547.1 777.8,1543.0 C780.0,1538.8 782.9,1535.6 785.5,1534.1 C788.0,1532.7 790.2,1533.5 793.1,1534.1 C796.1,1534.8 799.9,1535.5 803.4,1538.0 C806.8,1540.5 810.2,1544.6 813.6,1549.2 C817.0,1553.8 820.4,1560.1 823.8,1565.5 C827.2,1570.9 830.6,1576.4 834.0,1581.8 C837.4,1587.2 841.2,1594.0 844.2,1598.1 C847.2,1602.3 849.3,1604.5 851.8,1606.8 C854.4,1609.0 856.9,1610.6 859.5,1611.6 C862.1,1612.6 864.6,1611.6 867.2,1612.9 C869.7,1614.2 871.8,1616.5 874.8,1619.3 C877.8,1622.0 881.6,1626.5 885.0,1629.2 C888.4,1631.9 891.8,1633.7 895.2,1635.3 C898.6,1636.9 902.0,1637.2 905.4,1638.8 C908.8,1640.5 912.2,1642.8 915.6,1645.0 C919.1,1647.2 922.5,1649.9 925.9,1652.1 C929.3,1654.2 932.7,1656.3 936.1,1657.9 C939.5,1659.5 943.3,1660.2 946.3,1661.4 C949.3,1662.7 951.0,1665.0 953.9,1665.3 C956.9,1665.6 959.9,1663.7 964.1,1663.2 C968.4,1662.8 974.8,1662.9 979.5,1662.7 C984.1,1662.5 988.0,1662.0 992.2,1662.2 C996.5,1662.4 1001.2,1663.5 1005.0,1664.0 C1008.8,1664.5 1011.8,1665.1 1015.2,1665.3 C1018.6,1665.5 1023.7,1665.3 1025.4,1665.3 L1025.4,1665.3 C1023.7,1665.3 1018.6,1665.5 1015.2,1665.3 C1011.8,1665.1 1008.8,1664.5 1005.0,1664.0 C1001.2,1663.5 996.5,1662.4 992.2,1662.2 C988.0,1662.0 984.1,1662.5 979.5,1662.7 C974.8,1662.9 968.4,1662.8 964.1,1663.2 C959.9,1663.7 956.9,1665.6 953.9,1665.3 C951.0,1665.0 949.3,1662.3 946.3,1661.4 C943.3,1660.5 939.5,1660.5 936.1,1659.9 C932.7,1659.3 929.3,1658.9 925.9,1658.1 C922.5,1657.2 919.1,1656.2 915.6,1655.0 C912.2,1653.8 908.8,1651.8 905.4,1650.8 C902.0,1649.9 898.6,1650.2 895.2,1649.3 C891.8,1648.4 888.4,1647.2 885.0,1645.2 C881.6,1643.2 877.8,1639.6 874.8,1637.3 C871.8,1634.9 869.7,1632.2 867.2,1630.9 C864.6,1629.6 862.1,1630.3 859.5,1629.6 C856.9,1628.9 854.4,1628.4 851.8,1626.8 C849.3,1625.2 847.2,1623.6 844.2,1620.1 C841.2,1616.6 837.4,1610.6 834.0,1605.8 C830.6,1601.0 827.2,1596.3 823.8,1591.5 C820.4,1586.7 817.0,1581.1 813.6,1577.2 C810.2,1573.3 806.8,1570.1 803.4,1568.0 C799.9,1565.8 796.1,1564.8 793.1,1564.1 C790.2,1563.5 788.0,1564.3 785.5,1564.1 C782.9,1563.9 780.0,1562.5 777.8,1563.0 C775.7,1563.5 774.4,1563.3 772.7,1567.2 C771.0,1571.0 769.3,1577.9 767.6,1586.2 C765.9,1594.4 764.2,1607.0 762.5,1616.8 C760.8,1626.6 759.1,1637.2 757.4,1644.8 C755.7,1652.5 754.0,1658.7 752.3,1662.7 C750.6,1666.8 753.2,1668.0 747.2,1669.1 C741.2,1670.2 725.9,1669.4 716.6,1669.6 C707.2,1669.8 699.6,1669.9 691.0,1670.1 C682.5,1670.3 673.6,1670.5 665.5,1670.6 C657.4,1670.8 646.4,1671.1 642.5,1671.1 Z" stroke="none" stroke-width="1" fill="#a9402b" stroke-linecap="round" stroke-linejoin="round"/>
<path d="M643.1,1614.2 C643.6,1612.5 645.2,1607.2 646.4,1604.0 C647.6,1600.8 648.3,1598.1 650.2,1595.1 C652.1,1592.1 655.3,1588.1 657.9,1586.2 C660.4,1584.2 662.5,1584.0 665.5,1583.6 C668.5,1583.2 672.3,1584.2 675.7,1583.6 C679.1,1583.0 682.5,1581.9 685.9,1579.8 C689.3,1577.6 692.3,1574.5 696.1,1570.8 C700.0,1567.2 704.7,1561.3 708.9,1558.1 C713.2,1554.9 717.8,1553.1 721.7,1551.7 C725.5,1550.3 728.5,1549.9 731.9,1549.9 C735.3,1549.9 738.7,1551.0 742.1,1551.7 C745.5,1552.4 748.9,1553.4 752.3,1554.2 C755.7,1555.1 759.5,1555.5 762.5,1556.8 C765.5,1558.1 768.0,1559.6 770.2,1561.9 C772.3,1564.2 773.1,1565.9 775.3,1570.8 C777.4,1575.7 780.4,1584.9 782.9,1591.3 C785.5,1597.6 788.5,1605.4 790.6,1609.1 C792.7,1612.9 793.1,1613.1 795.7,1613.7 C798.2,1614.4 802.1,1613.5 805.9,1613.0 C809.7,1612.4 814.4,1611.5 818.7,1610.4 C822.9,1609.3 827.6,1606.8 831.4,1606.6 C835.2,1606.4 838.2,1607.8 841.6,1609.1 C845.0,1610.4 848.9,1612.5 851.8,1614.2 C854.8,1615.9 856.9,1618.1 859.5,1619.3 C862.1,1620.6 864.6,1620.4 867.2,1621.9 C869.7,1623.4 871.8,1625.7 874.8,1628.3 C877.8,1630.8 881.6,1634.0 885.0,1637.2 C888.4,1640.4 891.8,1644.4 895.2,1647.4 C898.6,1650.4 902.0,1653.1 905.4,1655.1 C908.8,1657.0 911.8,1658.3 915.6,1658.9 C919.5,1659.5 924.8,1658.9 928.4,1658.9 C932.0,1658.9 935.9,1658.9 937.4,1658.9" stroke="#141414" stroke-width="5.5" fill="none" stroke-linecap="round" stroke-linejoin="round"/>
<path d="M642.5,1671.1 C646.4,1671.1 657.4,1670.8 665.5,1670.6 C673.6,1670.5 682.5,1670.3 691.0,1670.1 C699.6,1669.9 707.2,1669.8 716.6,1669.6 C725.9,1669.4 741.2,1670.2 747.2,1669.1 C753.2,1668.0 750.6,1666.8 752.3,1662.7 C754.0,1658.7 755.7,1652.5 757.4,1644.8 C759.1,1637.2 760.8,1626.6 762.5,1616.8 C764.2,1607.0 765.9,1595.1 767.6,1586.2 C769.3,1577.2 771.0,1568.7 772.7,1563.2 C774.4,1557.7 775.7,1555.3 777.8,1553.0 C780.0,1550.6 782.9,1549.8 785.5,1549.1 C788.0,1548.5 790.2,1548.5 793.1,1549.1 C796.1,1549.8 799.9,1550.6 803.4,1553.0 C806.8,1555.3 810.2,1558.9 813.6,1563.2 C817.0,1567.4 820.4,1573.4 823.8,1578.5 C827.2,1583.6 830.6,1588.7 834.0,1593.8 C837.4,1598.9 841.2,1605.3 844.2,1609.1 C847.2,1612.9 849.3,1614.9 851.8,1616.8 C854.4,1618.7 856.9,1619.8 859.5,1620.6 C862.1,1621.5 864.6,1620.6 867.2,1621.9 C869.7,1623.2 871.8,1625.7 874.8,1628.3 C877.8,1630.8 881.6,1634.9 885.0,1637.2 C888.4,1639.5 891.8,1641.0 895.2,1642.3 C898.6,1643.6 902.0,1643.6 905.4,1644.8 C908.8,1646.1 912.2,1648.3 915.6,1650.0 C919.1,1651.7 922.5,1653.6 925.9,1655.1 C929.3,1656.5 932.7,1657.8 936.1,1658.9 C939.5,1660.0 943.3,1660.4 946.3,1661.4 C949.3,1662.5 951.0,1665.0 953.9,1665.3 C956.9,1665.6 959.9,1663.7 964.1,1663.2 C968.4,1662.8 974.8,1662.9 979.5,1662.7 C984.1,1662.5 988.0,1662.0 992.2,1662.2 C996.5,1662.4 1001.2,1663.5 1005.0,1664.0 C1008.8,1664.5 1011.8,1665.1 1015.2,1665.3 C1018.6,1665.5 1023.7,1665.3 1025.4,1665.3" stroke="#141414" stroke-width="5.5" fill="none" stroke-linecap="round" stroke-linejoin="round"/>
<path d="M937.4,1658.9 C938.8,1659.3 943.5,1660.4 946.3,1661.4 C949.0,1662.5 951.0,1665.0 953.9,1665.3 C956.9,1665.6 959.9,1663.7 964.1,1663.2 C968.4,1662.8 974.8,1662.9 979.5,1662.7 C984.1,1662.5 988.0,1662.0 992.2,1662.2 C996.5,1662.4 1001.2,1663.5 1005.0,1664.0 C1008.8,1664.5 1012.0,1665.1 1015.2,1665.3 C1018.4,1665.5 1022.6,1665.3 1024.1,1665.3" stroke="#141414" stroke-width="7" fill="none" stroke-linecap="round" stroke-linejoin="round"/>
<text x="655.5" y="1364.2" font-size="31.7" text-anchor="start" fill="#c9a2f2" font-weight="normal" font-style="normal" font-family="'Liberation Sans', Arial, Helvetica, sans-serif">Sample cue</text>
<text x="655.5" y="1405.2" font-size="31.7" text-anchor="start" fill="#a9402b" font-weight="normal" font-style="normal" font-family="'Liberation Sans', Arial, Helvetica, sans-serif">Test cue</text>
<line x1="644.6" y1="1290.9" x2="644.6" y2="1671.6" stroke="#c3c4c4" stroke-width="4.3" stroke-linecap="butt"/>
<line x1="695.4" y1="1290.9" x2="695.4" y2="1671.6" stroke="#c3c4c4" stroke-width="4.3" stroke-linecap="butt"/>
<line x1="749.2" y1="1290.9" x2="749.2" y2="1671.6" stroke="#c3c4c4" stroke-width="4.3" stroke-linecap="butt"/>
<line x1="857" y1="1302.3" x2="857" y2="1671.6" stroke="#c3c4c4" stroke-width="4.3" stroke-linecap="butt" stroke-dasharray="18 21.6"/>
<line x1="911" y1="1290.9" x2="911" y2="1671.6" stroke="#c3c4c4" stroke-width="4.3" stroke-linecap="butt"/>
<line x1="937.9" y1="1302.3" x2="937.9" y2="1671.6" stroke="#c3c4c4" stroke-width="4.3" stroke-linecap="butt" stroke-dasharray="18 21.6"/>
<line x1="964.7" y1="1290.9" x2="964.7" y2="1671.6" stroke="#c3c4c4" stroke-width="4.3" stroke-linecap="butt"/>
<line x1="640.8" y1="1290.9" x2="640.8" y2="1675.85" stroke="#141414" stroke-width="4.5" stroke-linecap="butt"/>
<line x1="638.55" y1="1673.6" x2="1031.5" y2="1673.6" stroke="#141414" stroke-width="4.5" stroke-linecap="butt"/>
<rect x="692.4" y="1670.85" width="6" height="5.5" fill="#fff"/>
<rect x="746.2" y="1670.85" width="6" height="5.5" fill="#fff"/>
<rect x="854" y="1670.85" width="6" height="5.5" fill="#fff"/>
<rect x="934.9" y="1670.85" width="6" height="5.5" fill="#fff"/>
<line x1="640.8" y1="1290.9" x2="646.8" y2="1290.9" stroke="#141414" stroke-width="4" stroke-linecap="butt"/>
<line x1="640.8" y1="1482.4" x2="646.8" y2="1482.4" stroke="#141414" stroke-width="4" stroke-linecap="butt"/>
<text x="630.5" y="1302.4" font-size="32" text-anchor="end" fill="#141414" font-weight="normal" font-style="normal" font-family="'Liberation Sans', Arial, Helvetica, sans-serif">1</text>
<text x="630.5" y="1493.9" font-size="32" text-anchor="end" fill="#141414" font-weight="normal" font-style="normal" font-family="'Liberation Sans', Arial, Helvetica, sans-serif">0.5</text>
<text x="630.5" y="1685.3" font-size="32" text-anchor="end" fill="#141414" font-weight="normal" font-style="normal" font-family="'Liberation Sans', Arial, Helvetica, sans-serif">0</text>
<path d="M1146.5,1672.0 C1154.6,1671.8 1182.7,1671.3 1195.0,1671.0 C1207.4,1670.7 1212.9,1670.5 1220.6,1670.0 C1228.2,1669.5 1235.9,1668.7 1241.0,1667.9 C1246.1,1667.2 1248.6,1666.7 1251.2,1665.4 C1253.8,1664.0 1254.6,1663.3 1256.3,1659.8 C1258.0,1656.2 1259.7,1651.6 1261.4,1643.9 C1263.1,1636.3 1264.8,1625.3 1266.5,1613.9 C1268.2,1602.4 1269.9,1587.6 1271.6,1575.1 C1273.3,1562.6 1275.0,1549.3 1276.7,1539.0 C1278.4,1528.6 1279.7,1519.4 1281.8,1513.0 C1284.0,1506.6 1286.9,1503.0 1289.5,1500.5 C1292.0,1498.0 1294.6,1499.9 1297.1,1497.9 C1299.7,1496.0 1301.8,1492.9 1304.8,1489.0 C1307.8,1485.1 1311.6,1479.2 1315.0,1474.7 C1318.4,1470.2 1321.8,1466.0 1325.2,1461.9 C1328.6,1457.9 1332.0,1453.4 1335.4,1450.4 C1338.8,1447.5 1342.2,1445.5 1345.6,1444.1 C1349.0,1442.6 1353.5,1442.6 1355.8,1441.5 C1358.2,1440.4 1358.4,1439.5 1359.7,1437.4 C1360.9,1435.4 1362.0,1433.4 1363.5,1429.2 C1365.0,1425.0 1366.9,1418.0 1368.6,1412.3 C1370.3,1406.7 1372.0,1400.8 1373.7,1395.5 C1375.4,1390.1 1376.3,1384.8 1378.8,1380.2 C1381.4,1375.5 1385.6,1371.2 1389.0,1367.4 C1392.4,1363.6 1395.8,1360.2 1399.2,1357.2 C1402.6,1354.2 1406.0,1351.1 1409.4,1349.5 C1412.8,1347.9 1416.2,1347.8 1419.7,1347.5 C1423.1,1347.1 1426.7,1347.2 1429.9,1347.5 C1433.0,1347.8 1436.7,1347.1 1438.8,1349.2 C1440.9,1351.4 1441.1,1355.2 1442.6,1360.2 C1444.1,1365.1 1446.0,1372.1 1447.7,1379.0 C1449.4,1386.0 1451.1,1395.2 1452.8,1402.0 C1454.5,1408.8 1456.2,1419.0 1457.9,1419.9 C1459.6,1420.7 1461.3,1413.1 1463.0,1407.1 C1464.7,1401.2 1466.4,1390.3 1468.1,1384.2 C1469.8,1378.0 1471.8,1372.0 1473.2,1370.1 C1474.7,1368.2 1475.8,1369.9 1477.1,1372.7 C1478.4,1375.4 1479.4,1379.3 1480.9,1386.7 C1482.4,1394.1 1484.3,1407.1 1486.0,1417.3 C1487.7,1427.5 1489.0,1439.0 1491.1,1448.0 C1493.2,1456.9 1496.2,1462.0 1498.8,1470.9 C1501.3,1479.9 1503.9,1489.6 1506.4,1501.6 C1509.0,1513.5 1512.0,1530.5 1514.1,1542.4 C1516.2,1554.3 1517.5,1564.5 1519.2,1573.0 C1520.9,1581.5 1522.6,1588.7 1524.3,1593.4 C1526.0,1598.2 1527.7,1599.8 1529.4,1601.4 C1531.1,1603.0 1533.7,1602.7 1534.5,1602.9 L1534.5,1610.9 C1533.7,1610.3 1531.1,1609.6 1529.4,1607.4 C1527.7,1605.1 1526.0,1602.5 1524.3,1597.4 C1522.6,1592.4 1520.9,1585.5 1519.2,1577.0 C1517.5,1568.5 1516.2,1558.3 1514.1,1546.4 C1512.0,1534.5 1509.0,1517.5 1506.4,1505.6 C1503.9,1493.6 1501.3,1483.9 1498.8,1474.9 C1496.2,1466.0 1493.2,1460.9 1491.1,1452.0 C1489.0,1443.0 1487.7,1431.5 1486.0,1421.3 C1484.3,1411.1 1482.4,1398.1 1480.9,1390.7 C1479.4,1383.3 1478.4,1379.4 1477.1,1376.7 C1475.8,1373.9 1474.7,1372.2 1473.2,1374.1 C1471.8,1376.0 1469.8,1382.0 1468.1,1388.2 C1466.4,1394.3 1464.7,1405.2 1463.0,1411.1 C1461.3,1417.1 1459.6,1424.7 1457.9,1423.9 C1456.2,1423.0 1454.5,1412.8 1452.8,1406.0 C1451.1,1399.2 1449.4,1389.7 1447.7,1383.0 C1446.0,1376.4 1444.1,1370.1 1442.6,1366.2 C1441.1,1362.2 1440.9,1360.4 1438.8,1359.2 C1436.7,1358.1 1433.0,1359.4 1429.9,1359.5 C1426.7,1359.5 1423.1,1359.1 1419.7,1359.5 C1416.2,1359.8 1412.8,1359.9 1409.4,1361.5 C1406.0,1363.1 1402.6,1366.2 1399.2,1369.2 C1395.8,1372.2 1392.4,1375.6 1389.0,1379.4 C1385.6,1383.2 1381.4,1387.5 1378.8,1392.2 C1376.3,1396.8 1375.4,1401.8 1373.7,1407.5 C1372.0,1413.2 1370.3,1420.0 1368.6,1426.3 C1366.9,1432.6 1365.0,1440.0 1363.5,1445.2 C1362.0,1450.4 1360.9,1454.4 1359.7,1457.4 C1358.4,1460.5 1358.2,1462.1 1355.8,1463.5 C1353.5,1465.0 1349.0,1464.6 1345.6,1466.1 C1342.2,1467.5 1338.8,1469.5 1335.4,1472.4 C1332.0,1475.4 1328.6,1479.9 1325.2,1483.9 C1321.8,1488.0 1318.4,1491.8 1315.0,1496.7 C1311.6,1501.5 1307.8,1508.8 1304.8,1513.0 C1301.8,1517.2 1299.7,1520.0 1297.1,1521.9 C1294.6,1523.9 1292.0,1522.3 1289.5,1524.5 C1286.9,1526.7 1284.0,1529.9 1281.8,1535.0 C1279.7,1540.1 1278.4,1546.6 1276.7,1555.0 C1275.0,1563.3 1273.3,1574.6 1271.6,1585.1 C1269.9,1595.6 1268.2,1608.1 1266.5,1617.9 C1264.8,1627.7 1263.1,1637.0 1261.4,1643.9 C1259.7,1650.9 1258.0,1656.2 1256.3,1659.8 C1254.6,1663.3 1253.8,1664.0 1251.2,1665.4 C1248.6,1666.7 1246.1,1667.2 1241.0,1667.9 C1235.9,1668.7 1228.2,1669.5 1220.6,1670.0 C1212.9,1670.5 1207.4,1670.7 1195.0,1671.0 C1182.7,1671.3 1154.6,1671.8 1146.5,1672.0 Z" stroke="none" stroke-width="1" fill="#b8c72a" stroke-linecap="round" stroke-linejoin="round"/>
<path d="M1146.5,1672.0 C1154.6,1671.8 1182.7,1671.3 1195.0,1671.0 C1207.4,1670.7 1212.9,1670.5 1220.6,1670.0 C1228.2,1669.5 1235.9,1668.8 1241.0,1667.9 C1246.1,1667.1 1248.6,1666.7 1251.2,1664.9 C1253.8,1663.0 1254.6,1660.6 1256.3,1656.7 C1258.0,1652.8 1259.7,1646.9 1261.4,1641.4 C1263.1,1635.9 1264.8,1630.1 1266.5,1623.5 C1268.2,1616.9 1269.9,1608.2 1271.6,1601.7 C1273.3,1595.1 1274.8,1588.8 1276.7,1584.3 C1278.6,1579.8 1281.0,1575.4 1283.1,1574.7 C1285.2,1573.9 1287.1,1577.2 1289.5,1579.8 C1291.8,1582.3 1294.2,1587.4 1297.1,1590.0 C1300.1,1592.5 1303.9,1594.3 1307.3,1595.1 C1310.8,1595.9 1314.2,1595.4 1317.6,1594.6 C1321.0,1593.7 1324.4,1591.8 1327.8,1590.0 C1331.2,1588.2 1334.6,1585.5 1338.0,1583.6 C1341.4,1581.7 1344.8,1579.8 1348.2,1578.5 C1351.6,1577.2 1355.8,1577.2 1358.4,1576.0 C1361.0,1574.7 1361.4,1573.6 1363.5,1570.8 C1365.6,1568.1 1368.6,1562.6 1371.2,1559.4 C1373.7,1556.2 1375.8,1553.6 1378.8,1551.7 C1381.8,1549.8 1385.6,1548.5 1389.0,1547.9 C1392.4,1547.2 1395.0,1547.7 1399.2,1547.9 C1403.5,1548.1 1410.3,1548.8 1414.5,1549.2 C1418.8,1549.5 1420.9,1549.7 1424.8,1549.9 C1428.6,1550.1 1434.1,1547.8 1437.5,1550.4 C1440.9,1553.0 1442.6,1560.2 1445.2,1565.5 C1447.7,1570.7 1450.5,1577.6 1452.8,1581.8 C1455.2,1586.0 1457.1,1590.3 1459.2,1590.7 C1461.3,1591.1 1463.2,1588.0 1465.6,1584.3 C1467.9,1580.7 1470.3,1575.0 1473.2,1569.0 C1476.2,1563.1 1480.5,1554.6 1483.5,1548.6 C1486.4,1542.6 1488.6,1537.7 1491.1,1533.3 C1493.7,1528.9 1496.2,1522.1 1498.8,1522.1 C1501.3,1522.1 1503.9,1527.9 1506.4,1533.3 C1509.0,1538.7 1511.5,1548.2 1514.1,1554.7 C1516.6,1561.3 1519.2,1567.5 1521.7,1572.6 C1524.3,1577.7 1527.3,1582.4 1529.4,1585.3 C1531.5,1588.3 1533.7,1589.6 1534.5,1590.4 L1534.5,1600.4 C1533.7,1599.6 1531.5,1598.3 1529.4,1595.3 C1527.3,1592.4 1524.3,1587.7 1521.7,1582.6 C1519.2,1577.5 1516.6,1570.9 1514.1,1564.7 C1511.5,1558.5 1509.0,1550.1 1506.4,1545.3 C1503.9,1540.5 1501.3,1536.1 1498.8,1536.1 C1496.2,1536.1 1493.7,1541.2 1491.1,1545.3 C1488.6,1549.4 1486.4,1554.6 1483.5,1560.6 C1480.5,1566.6 1476.2,1575.1 1473.2,1581.0 C1470.3,1587.0 1467.9,1592.7 1465.6,1596.3 C1463.2,1600.0 1461.3,1603.1 1459.2,1602.7 C1457.1,1602.3 1455.2,1597.7 1452.8,1593.8 C1450.5,1589.9 1447.7,1584.0 1445.2,1579.5 C1442.6,1574.9 1440.9,1568.7 1437.5,1566.4 C1434.1,1564.2 1428.6,1566.1 1424.8,1565.9 C1420.9,1565.7 1418.8,1565.5 1414.5,1565.2 C1410.3,1564.8 1403.5,1564.1 1399.2,1563.9 C1395.0,1563.7 1392.4,1563.2 1389.0,1563.9 C1385.6,1564.5 1381.8,1565.8 1378.8,1567.7 C1375.8,1569.6 1373.7,1572.2 1371.2,1575.4 C1368.6,1578.6 1365.6,1584.1 1363.5,1586.8 C1361.4,1589.6 1361.0,1590.7 1358.4,1592.0 C1355.8,1593.2 1351.6,1593.2 1348.2,1594.5 C1344.8,1595.8 1341.4,1597.7 1338.0,1599.6 C1334.6,1601.5 1331.2,1604.2 1327.8,1606.0 C1324.4,1607.8 1321.0,1609.7 1317.6,1610.6 C1314.2,1611.4 1310.8,1611.9 1307.3,1611.1 C1303.9,1610.3 1300.1,1608.5 1297.1,1606.0 C1294.2,1603.4 1291.8,1598.3 1289.5,1595.8 C1287.1,1593.2 1285.2,1590.6 1283.1,1590.7 C1281.0,1590.8 1278.6,1593.2 1276.7,1596.3 C1274.8,1599.5 1273.3,1605.1 1271.6,1609.7 C1269.9,1614.2 1268.2,1618.2 1266.5,1623.5 C1264.8,1628.8 1263.1,1635.9 1261.4,1641.4 C1259.7,1646.9 1258.0,1652.8 1256.3,1656.7 C1254.6,1660.6 1253.8,1663.0 1251.2,1664.9 C1248.6,1666.7 1246.1,1667.1 1241.0,1667.9 C1235.9,1668.8 1228.2,1669.5 1220.6,1670.0 C1212.9,1670.5 1207.4,1670.7 1195.0,1671.0 C1182.7,1671.3 1154.6,1671.8 1146.5,1672.0 Z" stroke="none" stroke-width="1" fill="#3d83c8" stroke-linecap="round" stroke-linejoin="round"/>
<path d="M1146.5,1672.0 C1154.6,1671.8 1182.7,1671.3 1195.0,1671.0 C1207.4,1670.7 1212.9,1670.5 1220.6,1670.0 C1228.2,1669.5 1235.9,1668.7 1241.0,1667.9 C1246.1,1667.2 1248.6,1666.7 1251.2,1665.4 C1253.8,1664.0 1254.6,1663.3 1256.3,1659.8 C1258.0,1656.2 1259.7,1651.3 1261.4,1643.9 C1263.1,1636.6 1264.8,1626.5 1266.5,1615.9 C1268.2,1605.2 1269.9,1591.6 1271.6,1580.1 C1273.3,1568.6 1275.0,1556.3 1276.7,1547.0 C1278.4,1537.6 1279.7,1529.7 1281.8,1524.0 C1284.0,1518.2 1286.9,1514.8 1289.5,1512.5 C1292.0,1510.2 1294.6,1511.9 1297.1,1509.9 C1299.7,1508.0 1301.8,1505.1 1304.8,1501.0 C1307.8,1497.0 1311.6,1490.4 1315.0,1485.7 C1318.4,1481.0 1321.8,1477.0 1325.2,1472.9 C1328.6,1468.9 1332.0,1464.4 1335.4,1461.4 C1338.8,1458.5 1342.2,1456.5 1345.6,1455.1 C1349.0,1453.6 1353.5,1453.8 1355.8,1452.5 C1358.2,1451.2 1358.4,1450.0 1359.7,1447.4 C1360.9,1444.9 1362.0,1441.9 1363.5,1437.2 C1365.0,1432.5 1366.9,1425.3 1368.6,1419.3 C1370.3,1413.4 1372.0,1407.0 1373.7,1401.5 C1375.4,1395.9 1376.3,1390.8 1378.8,1386.2 C1381.4,1381.5 1385.6,1377.2 1389.0,1373.4 C1392.4,1369.6 1395.8,1366.2 1399.2,1363.2 C1402.6,1360.2 1406.0,1357.1 1409.4,1355.5 C1412.8,1353.9 1416.2,1353.8 1419.7,1353.5 C1423.1,1353.1 1426.7,1353.4 1429.9,1353.5 C1433.0,1353.6 1436.7,1352.6 1438.8,1354.2 C1440.9,1355.9 1441.1,1358.7 1442.6,1363.2 C1444.1,1367.6 1446.0,1374.2 1447.7,1381.0 C1449.4,1387.9 1451.1,1397.2 1452.8,1404.0 C1454.5,1410.8 1456.2,1421.0 1457.9,1421.9 C1459.6,1422.7 1461.3,1415.1 1463.0,1409.1 C1464.7,1403.2 1466.4,1392.3 1468.1,1386.2 C1469.8,1380.0 1471.8,1374.0 1473.2,1372.1 C1474.7,1370.2 1475.8,1371.9 1477.1,1374.7 C1478.4,1377.4 1479.4,1381.3 1480.9,1388.7 C1482.4,1396.1 1484.3,1409.1 1486.0,1419.3 C1487.7,1429.5 1489.0,1441.0 1491.1,1450.0 C1493.2,1458.9 1496.2,1464.0 1498.8,1472.9 C1501.3,1481.9 1503.9,1491.6 1506.4,1503.6 C1509.0,1515.5 1512.0,1532.5 1514.1,1544.4 C1516.2,1556.3 1517.5,1566.5 1519.2,1575.0 C1520.9,1583.5 1522.6,1590.5 1524.3,1595.4 C1526.0,1600.3 1527.7,1602.5 1529.4,1604.4 C1531.1,1606.3 1533.7,1606.5 1534.5,1606.9" stroke="#141414" stroke-width="5.5" fill="none" stroke-linecap="round" stroke-linejoin="round"/>
<path d="M1146.5,1672.0 C1154.6,1671.8 1182.7,1671.3 1195.0,1671.0 C1207.4,1670.7 1212.9,1670.5 1220.6,1670.0 C1228.2,1669.5 1235.9,1668.8 1241.0,1667.9 C1246.1,1667.1 1248.6,1666.7 1251.2,1664.9 C1253.8,1663.0 1254.6,1660.6 1256.3,1656.7 C1258.0,1652.8 1259.7,1646.9 1261.4,1641.4 C1263.1,1635.9 1264.8,1629.5 1266.5,1623.5 C1268.2,1617.6 1269.9,1611.2 1271.6,1605.7 C1273.3,1600.1 1274.8,1594.2 1276.7,1590.3 C1278.6,1586.5 1281.0,1583.1 1283.1,1582.7 C1285.2,1582.3 1287.1,1585.2 1289.5,1587.8 C1291.8,1590.3 1294.2,1595.4 1297.1,1598.0 C1300.1,1600.5 1303.9,1602.3 1307.3,1603.1 C1310.8,1603.9 1314.2,1603.4 1317.6,1602.6 C1321.0,1601.7 1324.4,1599.8 1327.8,1598.0 C1331.2,1596.2 1334.6,1593.5 1338.0,1591.6 C1341.4,1589.7 1344.8,1587.8 1348.2,1586.5 C1351.6,1585.2 1355.8,1585.2 1358.4,1584.0 C1361.0,1582.7 1361.4,1581.6 1363.5,1578.8 C1365.6,1576.1 1368.6,1570.6 1371.2,1567.4 C1373.7,1564.2 1375.8,1561.6 1378.8,1559.7 C1381.8,1557.8 1385.6,1556.5 1389.0,1555.9 C1392.4,1555.2 1395.0,1555.7 1399.2,1555.9 C1403.5,1556.1 1410.3,1556.8 1414.5,1557.2 C1418.8,1557.5 1420.9,1557.7 1424.8,1557.9 C1428.6,1558.1 1434.1,1556.0 1437.5,1558.4 C1440.9,1560.9 1442.6,1567.6 1445.2,1572.5 C1447.7,1577.4 1450.5,1583.7 1452.8,1587.8 C1455.2,1591.8 1457.1,1596.3 1459.2,1596.7 C1461.3,1597.1 1463.2,1594.0 1465.6,1590.3 C1467.9,1586.7 1470.3,1581.0 1473.2,1575.0 C1476.2,1569.1 1480.5,1560.6 1483.5,1554.6 C1486.4,1548.6 1488.6,1543.5 1491.1,1539.3 C1493.7,1535.0 1496.2,1529.1 1498.8,1529.1 C1501.3,1529.1 1503.9,1534.2 1506.4,1539.3 C1509.0,1544.4 1511.5,1553.3 1514.1,1559.7 C1516.6,1566.1 1519.2,1572.5 1521.7,1577.6 C1524.3,1582.7 1527.3,1587.4 1529.4,1590.3 C1531.5,1593.3 1533.7,1594.6 1534.5,1595.4" stroke="#141414" stroke-width="5.5" fill="none" stroke-linecap="round" stroke-linejoin="round"/>
<text x="1166.5" y="1364.2" font-size="31.7" text-anchor="start" fill="#b8c72a" font-weight="normal" font-style="normal" font-family="'Liberation Sans', Arial, Helvetica, sans-serif">Choice</text>
<text x="1166.5" y="1405.2" font-size="31.7" text-anchor="start" fill="#3d83c8" font-weight="normal" font-style="normal" font-family="'Liberation Sans', Arial, Helvetica, sans-serif">Rewad direction</text>
<line x1="1148" y1="1290.9" x2="1148" y2="1671.6" stroke="#c3c4c4" stroke-width="4.3" stroke-linecap="butt"/>
<line x1="1200.7" y1="1290.9" x2="1200.7" y2="1671.6" stroke="#c3c4c4" stroke-width="4.3" stroke-linecap="butt"/>
<line x1="1254.6" y1="1290.9" x2="1254.6" y2="1671.6" stroke="#c3c4c4" stroke-width="4.3" stroke-linecap="butt"/>
<line x1="1362" y1="1302.3" x2="1362" y2="1671.6" stroke="#c3c4c4" stroke-width="4.3" stroke-linecap="butt" stroke-dasharray="18 21.6"/>
<line x1="1415.6" y1="1290.9" x2="1415.6" y2="1671.6" stroke="#c3c4c4" stroke-width="4.3" stroke-linecap="butt"/>
<line x1="1442.7" y1="1302.3" x2="1442.7" y2="1671.6" stroke="#c3c4c4" stroke-width="4.3" stroke-linecap="butt" stroke-dasharray="18 21.6"/>
<line x1="1469.6" y1="1290.9" x2="1469.6" y2="1671.6" stroke="#c3c4c4" stroke-width="4.3" stroke-linecap="butt"/>
<line x1="1146.7" y1="1290.9" x2="1146.7" y2="1675.85" stroke="#141414" stroke-width="4.5" stroke-linecap="butt"/>
<line x1="1144.45" y1="1673.6" x2="1536" y2="1673.6" stroke="#141414" stroke-width="4.5" stroke-linecap="butt"/>
<rect x="1197.7" y="1670.85" width="6" height="5.5" fill="#fff"/>
<rect x="1251.6" y="1670.85" width="6" height="5.5" fill="#fff"/>
<rect x="1359" y="1670.85" width="6" height="5.5" fill="#fff"/>
<rect x="1439.7" y="1670.85" width="6" height="5.5" fill="#fff"/>
<line x1="1146.7" y1="1290.9" x2="1152.7" y2="1290.9" stroke="#141414" stroke-width="4" stroke-linecap="butt"/>
<line x1="1146.7" y1="1482.4" x2="1152.7" y2="1482.4" stroke="#141414" stroke-width="4" stroke-linecap="butt"/>
<text x="1135" y="1302.4" font-size="32" text-anchor="end" fill="#141414" font-weight="normal" font-style="normal" font-family="'Liberation Sans', Arial, Helvetica, sans-serif">1</text>
<text x="1135" y="1493.9" font-size="32" text-anchor="end" fill="#141414" font-weight="normal" font-style="normal" font-family="'Liberation Sans', Arial, Helvetica, sans-serif">0.5</text>
<text x="1135" y="1685.3" font-size="32" text-anchor="end" fill="#141414" font-weight="normal" font-style="normal" font-family="'Liberation Sans', Arial, Helvetica, sans-serif">0</text>
<text x="574.9" y="1485.8" font-size="32" text-anchor="middle" fill="#141414" font-weight="normal" font-style="normal" font-family="'Liberation Sans', Arial, Helvetica, sans-serif" transform="rotate(-90 574.9 1485.8)" textLength="239" lengthAdjust="spacing">Information (bits)</text>
<text x="683.6" y="1707.6" font-size="32.5" text-anchor="end" fill="#141414" font-weight="normal" font-style="normal" font-family="'Liberation Sans', Arial, Helvetica, sans-serif" transform="rotate(-30 683.6 1707.6)">sample</text>
<text x="743" y="1707.6" font-size="32.5" text-anchor="end" fill="#141414" font-weight="normal" font-style="normal" font-family="'Liberation Sans', Arial, Helvetica, sans-serif" transform="rotate(-30 743 1707.6)">delay</text>
<text x="799.6" y="1707.6" font-size="32.5" text-anchor="end" fill="#141414" font-weight="normal" font-style="normal" font-family="'Liberation Sans', Arial, Helvetica, sans-serif" transform="rotate(-30 799.6 1707.6)">test</text>
<text x="937.6" y="1707.6" font-size="32.5" text-anchor="end" fill="#141414" font-weight="normal" font-style="normal" font-family="'Liberation Sans', Arial, Helvetica, sans-serif" transform="rotate(-30 937.6 1707.6)">turn</text>
<text x="1004.9" y="1707.6" font-size="32.5" text-anchor="end" fill="#141414" font-weight="normal" font-style="normal" font-family="'Liberation Sans', Arial, Helvetica, sans-serif" transform="rotate(-30 1004.9 1707.6)">reward</text>
<text x="1189.4" y="1707.5" font-size="32.5" text-anchor="end" fill="#141414" font-weight="normal" font-style="normal" font-family="'Liberation Sans', Arial, Helvetica, sans-serif" transform="rotate(-30 1189.4 1707.5)">sample</text>
<text x="1248.4" y="1707.5" font-size="32.5" text-anchor="end" fill="#141414" font-weight="normal" font-style="normal" font-family="'Liberation Sans', Arial, Helvetica, sans-serif" transform="rotate(-30 1248.4 1707.5)">delay</text>
<text x="1305.2" y="1707.5" font-size="32.5" text-anchor="end" fill="#141414" font-weight="normal" font-style="normal" font-family="'Liberation Sans', Arial, Helvetica, sans-serif" transform="rotate(-30 1305.2 1707.5)">test</text>
<text x="1443.1" y="1707.5" font-size="32.5" text-anchor="end" fill="#141414" font-weight="normal" font-style="normal" font-family="'Liberation Sans', Arial, Helvetica, sans-serif" transform="rotate(-30 1443.1 1707.5)">turn</text>
<text x="1509.4" y="1707.5" font-size="32.5" text-anchor="end" fill="#141414" font-weight="normal" font-style="normal" font-family="'Liberation Sans', Arial, Helvetica, sans-serif" transform="rotate(-30 1509.4 1707.5)">reward</text>
</svg></body></html>
